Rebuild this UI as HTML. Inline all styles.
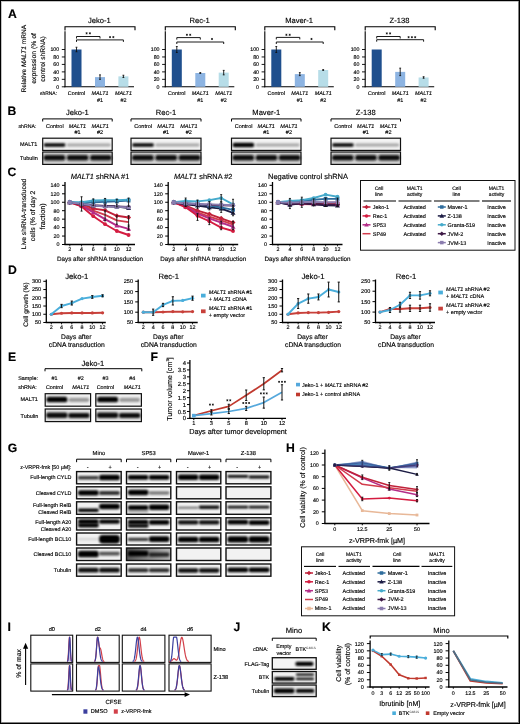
<!DOCTYPE html>
<html><head><meta charset="utf-8"><style>
html,body{margin:0;padding:0;background:#fff;}
body{width:520px;height:724px;overflow:hidden;position:relative;}
svg{display:block;position:absolute;left:0;top:0;will-change:transform;}
text{font-family:"Liberation Sans",sans-serif;text-rendering:geometricPrecision;stroke:#000;stroke-width:0.14px;}
.bd{position:absolute;}
</style></head><body>
<svg width="520" height="724" viewBox="0 0 520 724">
<defs>
<filter id="b1" x="-20%" y="-50%" width="140%" height="200%"><feGaussianBlur stdDeviation="0.5"/></filter>
<linearGradient id="gsp" x1="0" x2="1" y1="0" y2="0"><stop offset="0" stop-color="#555"/><stop offset="0.5" stop-color="#8a8a8a"/><stop offset="1" stop-color="#b5b5b5"/></linearGradient>
<filter id="b2" x="-20%" y="-100%" width="140%" height="300%"><feGaussianBlur stdDeviation="0.9"/></filter>
</defs>
<rect x="0" y="0" width="520" height="724" fill="#fff"/>
<text x="8" y="17.84" font-size="12.2" font-weight="bold">A</text>
<text x="7.6" y="114.64" font-size="12.2" font-weight="bold">B</text>
<text x="7.5" y="176.14" font-size="12.2" font-weight="bold">C</text>
<text x="7.9" y="273.74" font-size="12.2" font-weight="bold">D</text>
<text x="7.9" y="360.84" font-size="12.2" font-weight="bold">E</text>
<text x="150.5" y="360.94" font-size="12.2" font-weight="bold">F</text>
<text x="7.8" y="451.94" font-size="12.2" font-weight="bold">G</text>
<text x="286.1" y="451.84" font-size="12.2" font-weight="bold">H</text>
<text x="7.4" y="630.74" font-size="12.2" font-weight="bold">I</text>
<text x="233.5" y="631.14" font-size="12.2" font-weight="bold">J</text>
<text x="322" y="630.94" font-size="12.2" font-weight="bold">K</text>
<line x1="65" y1="31.2" x2="65" y2="87.3" stroke="#000" stroke-width="1.1"/>
<line x1="64.5" y1="86.8" x2="134" y2="86.8" stroke="#000" stroke-width="1.1"/>
<path d="M65 30.4V26.7H135V30.2" fill="none" stroke="#000" stroke-width="1.1"/>
<line x1="61.8" y1="86.8" x2="65" y2="86.8" stroke="#000" stroke-width="0.9"/>
<text x="59.2" y="88.64" font-size="5.25" text-anchor="end">0</text>
<line x1="61.8" y1="79.34" x2="65" y2="79.34" stroke="#000" stroke-width="0.9"/>
<text x="59.2" y="81.18" font-size="5.25" text-anchor="end">20</text>
<line x1="61.8" y1="71.88" x2="65" y2="71.88" stroke="#000" stroke-width="0.9"/>
<text x="59.2" y="73.72" font-size="5.25" text-anchor="end">40</text>
<line x1="61.8" y1="64.42" x2="65" y2="64.42" stroke="#000" stroke-width="0.9"/>
<text x="59.2" y="66.26" font-size="5.25" text-anchor="end">60</text>
<line x1="61.8" y1="56.96" x2="65" y2="56.96" stroke="#000" stroke-width="0.9"/>
<text x="59.2" y="58.8" font-size="5.25" text-anchor="end">80</text>
<line x1="61.8" y1="49.5" x2="65" y2="49.5" stroke="#000" stroke-width="0.9"/>
<text x="59.2" y="51.34" font-size="5.25" text-anchor="end">100</text>
<text x="99.3" y="23.16" font-size="7.6" text-anchor="middle">Jeko-1</text>
<rect x="71.5" y="49.5" width="10" height="37.3" fill="#1f4f8d"/>
<line x1="76.5" y1="47.26" x2="76.5" y2="51.74" stroke="#111" stroke-width="0.9"/>
<line x1="75.6" y1="47.26" x2="77.4" y2="47.26" stroke="#111" stroke-width="0.9"/>
<line x1="75.6" y1="51.74" x2="77.4" y2="51.74" stroke="#111" stroke-width="0.9"/>
<rect x="95" y="77.1" width="10" height="9.7" fill="#8db4e2"/>
<line x1="100" y1="74.86" x2="100" y2="79.34" stroke="#111" stroke-width="0.9"/>
<line x1="99.1" y1="74.86" x2="100.9" y2="74.86" stroke="#111" stroke-width="0.9"/>
<line x1="99.1" y1="79.34" x2="100.9" y2="79.34" stroke="#111" stroke-width="0.9"/>
<rect x="118.4" y="76.36" width="10" height="10.44" fill="#b7dde8"/>
<line x1="123.4" y1="75.24" x2="123.4" y2="77.47" stroke="#111" stroke-width="0.9"/>
<line x1="122.5" y1="75.24" x2="124.3" y2="75.24" stroke="#111" stroke-width="0.9"/>
<line x1="122.5" y1="77.47" x2="124.3" y2="77.47" stroke="#111" stroke-width="0.9"/>
<path d="M76.5 38.5V36.5H100V38.5" fill="none" stroke="#000" stroke-width="0.9"/>
<path d="M76.5 41.9V39.9H123.4V41.9" fill="none" stroke="#000" stroke-width="0.9"/>
<path d="M86.6 32.25V34.35M85.66 32.77L87.54 33.82M85.66 33.82L87.54 32.77M89.9 32.25V34.35M88.95 32.77L90.84 33.82M88.95 33.82L90.84 32.77" stroke="#000" stroke-width="0.65" fill="none"/>
<path d="M110.05 36.05V38.15M109.11 36.58L110.99 37.62M109.11 37.62L110.99 36.58M113.35 36.05V38.15M112.41 36.58L114.29 37.62M112.41 37.62L114.29 36.58" stroke="#000" stroke-width="0.65" fill="none"/>
<text x="76.5" y="95.19" font-size="5.4" text-anchor="middle">Control</text>
<text x="100" y="95.19" font-size="5.4" text-anchor="middle" font-style="italic">MALT1</text>
<text x="123.4" y="95.19" font-size="5.4" text-anchor="middle" font-style="italic">MALT1</text>
<text x="100" y="101.69" font-size="5.4" text-anchor="middle">#1</text>
<text x="123.4" y="101.69" font-size="5.4" text-anchor="middle">#2</text>
<line x1="165.3" y1="31.2" x2="165.3" y2="87.3" stroke="#000" stroke-width="1.1"/>
<line x1="164.8" y1="86.8" x2="234.3" y2="86.8" stroke="#000" stroke-width="1.1"/>
<path d="M165.3 30.4V26.7H235.3V30.2" fill="none" stroke="#000" stroke-width="1.1"/>
<line x1="162.1" y1="86.8" x2="165.3" y2="86.8" stroke="#000" stroke-width="0.9"/>
<text x="159.5" y="88.64" font-size="5.25" text-anchor="end">0</text>
<line x1="162.1" y1="79.34" x2="165.3" y2="79.34" stroke="#000" stroke-width="0.9"/>
<text x="159.5" y="81.18" font-size="5.25" text-anchor="end">20</text>
<line x1="162.1" y1="71.88" x2="165.3" y2="71.88" stroke="#000" stroke-width="0.9"/>
<text x="159.5" y="73.72" font-size="5.25" text-anchor="end">40</text>
<line x1="162.1" y1="64.42" x2="165.3" y2="64.42" stroke="#000" stroke-width="0.9"/>
<text x="159.5" y="66.26" font-size="5.25" text-anchor="end">60</text>
<line x1="162.1" y1="56.96" x2="165.3" y2="56.96" stroke="#000" stroke-width="0.9"/>
<text x="159.5" y="58.8" font-size="5.25" text-anchor="end">80</text>
<line x1="162.1" y1="49.5" x2="165.3" y2="49.5" stroke="#000" stroke-width="0.9"/>
<text x="159.5" y="51.34" font-size="5.25" text-anchor="end">100</text>
<text x="199.6" y="23.16" font-size="7.6" text-anchor="middle">Rec-1</text>
<rect x="171.8" y="49.5" width="10" height="37.3" fill="#1f4f8d"/>
<line x1="176.8" y1="46.52" x2="176.8" y2="52.48" stroke="#111" stroke-width="0.9"/>
<line x1="175.9" y1="46.52" x2="177.7" y2="46.52" stroke="#111" stroke-width="0.9"/>
<line x1="175.9" y1="52.48" x2="177.7" y2="52.48" stroke="#111" stroke-width="0.9"/>
<rect x="195.3" y="73" width="10" height="13.8" fill="#8db4e2"/>
<line x1="200.3" y1="72.63" x2="200.3" y2="73.37" stroke="#111" stroke-width="0.9"/>
<line x1="199.4" y1="72.63" x2="201.2" y2="72.63" stroke="#111" stroke-width="0.9"/>
<line x1="199.4" y1="73.37" x2="201.2" y2="73.37" stroke="#111" stroke-width="0.9"/>
<rect x="218.7" y="72.63" width="10" height="14.17" fill="#b7dde8"/>
<line x1="223.7" y1="70.39" x2="223.7" y2="74.86" stroke="#111" stroke-width="0.9"/>
<line x1="222.8" y1="70.39" x2="224.6" y2="70.39" stroke="#111" stroke-width="0.9"/>
<line x1="222.8" y1="74.86" x2="224.6" y2="74.86" stroke="#111" stroke-width="0.9"/>
<path d="M176.8 39.6V37.6H200.3V39.6" fill="none" stroke="#000" stroke-width="0.9"/>
<path d="M176.8 44V42H223.7V44" fill="none" stroke="#000" stroke-width="0.9"/>
<path d="M186.9 33.75V35.85M185.96 34.27L187.84 35.32M185.96 35.32L187.84 34.27M190.2 33.75V35.85M189.26 34.27L191.15 35.32M189.26 35.32L191.15 34.27" stroke="#000" stroke-width="0.65" fill="none"/>
<path d="M212 37.95V40.05M211.06 38.48L212.94 39.52M211.06 39.52L212.94 38.48" stroke="#000" stroke-width="0.65" fill="none"/>
<text x="176.8" y="95.19" font-size="5.4" text-anchor="middle">Control</text>
<text x="200.3" y="95.19" font-size="5.4" text-anchor="middle" font-style="italic">MALT1</text>
<text x="223.7" y="95.19" font-size="5.4" text-anchor="middle" font-style="italic">MALT1</text>
<text x="200.3" y="101.69" font-size="5.4" text-anchor="middle">#1</text>
<text x="223.7" y="101.69" font-size="5.4" text-anchor="middle">#2</text>
<line x1="264.8" y1="31.2" x2="264.8" y2="87.3" stroke="#000" stroke-width="1.1"/>
<line x1="264.3" y1="86.8" x2="333.8" y2="86.8" stroke="#000" stroke-width="1.1"/>
<path d="M264.8 30.4V26.7H334.8V30.2" fill="none" stroke="#000" stroke-width="1.1"/>
<line x1="261.6" y1="86.8" x2="264.8" y2="86.8" stroke="#000" stroke-width="0.9"/>
<text x="259" y="88.64" font-size="5.25" text-anchor="end">0</text>
<line x1="261.6" y1="79.34" x2="264.8" y2="79.34" stroke="#000" stroke-width="0.9"/>
<text x="259" y="81.18" font-size="5.25" text-anchor="end">20</text>
<line x1="261.6" y1="71.88" x2="264.8" y2="71.88" stroke="#000" stroke-width="0.9"/>
<text x="259" y="73.72" font-size="5.25" text-anchor="end">40</text>
<line x1="261.6" y1="64.42" x2="264.8" y2="64.42" stroke="#000" stroke-width="0.9"/>
<text x="259" y="66.26" font-size="5.25" text-anchor="end">60</text>
<line x1="261.6" y1="56.96" x2="264.8" y2="56.96" stroke="#000" stroke-width="0.9"/>
<text x="259" y="58.8" font-size="5.25" text-anchor="end">80</text>
<line x1="261.6" y1="49.5" x2="264.8" y2="49.5" stroke="#000" stroke-width="0.9"/>
<text x="259" y="51.34" font-size="5.25" text-anchor="end">100</text>
<text x="299.1" y="23.16" font-size="7.6" text-anchor="middle">Maver-1</text>
<rect x="271.3" y="49.5" width="10" height="37.3" fill="#1f4f8d"/>
<line x1="276.3" y1="46.52" x2="276.3" y2="52.48" stroke="#111" stroke-width="0.9"/>
<line x1="275.4" y1="46.52" x2="277.2" y2="46.52" stroke="#111" stroke-width="0.9"/>
<line x1="275.4" y1="52.48" x2="277.2" y2="52.48" stroke="#111" stroke-width="0.9"/>
<rect x="294.8" y="74.12" width="10" height="12.68" fill="#8db4e2"/>
<line x1="299.8" y1="72.63" x2="299.8" y2="75.61" stroke="#111" stroke-width="0.9"/>
<line x1="298.9" y1="72.63" x2="300.7" y2="72.63" stroke="#111" stroke-width="0.9"/>
<line x1="298.9" y1="75.61" x2="300.7" y2="75.61" stroke="#111" stroke-width="0.9"/>
<rect x="318.2" y="70.02" width="10" height="16.79" fill="#b7dde8"/>
<line x1="323.2" y1="69.64" x2="323.2" y2="70.39" stroke="#111" stroke-width="0.9"/>
<line x1="322.3" y1="69.64" x2="324.1" y2="69.64" stroke="#111" stroke-width="0.9"/>
<line x1="322.3" y1="70.39" x2="324.1" y2="70.39" stroke="#111" stroke-width="0.9"/>
<path d="M276.3 39.4V37.4H299.8V39.4" fill="none" stroke="#000" stroke-width="0.9"/>
<path d="M276.3 44V42H323.2V44" fill="none" stroke="#000" stroke-width="0.9"/>
<path d="M286.4 33.75V35.85M285.46 34.27L287.35 35.32M285.46 35.32L287.35 34.27M289.7 33.75V35.85M288.76 34.27L290.65 35.32M288.76 35.32L290.65 34.27" stroke="#000" stroke-width="0.65" fill="none"/>
<path d="M311.5 37.95V40.05M310.56 38.48L312.44 39.52M310.56 39.52L312.44 38.48" stroke="#000" stroke-width="0.65" fill="none"/>
<text x="276.3" y="95.19" font-size="5.4" text-anchor="middle">Control</text>
<text x="299.8" y="95.19" font-size="5.4" text-anchor="middle" font-style="italic">MALT1</text>
<text x="323.2" y="95.19" font-size="5.4" text-anchor="middle" font-style="italic">MALT1</text>
<text x="299.8" y="101.69" font-size="5.4" text-anchor="middle">#1</text>
<text x="323.2" y="101.69" font-size="5.4" text-anchor="middle">#2</text>
<line x1="365.2" y1="31.2" x2="365.2" y2="87.3" stroke="#000" stroke-width="1.1"/>
<line x1="364.7" y1="86.8" x2="434.2" y2="86.8" stroke="#000" stroke-width="1.1"/>
<path d="M365.2 30.4V26.7H435.2V30.2" fill="none" stroke="#000" stroke-width="1.1"/>
<line x1="362" y1="86.8" x2="365.2" y2="86.8" stroke="#000" stroke-width="0.9"/>
<text x="359.4" y="88.64" font-size="5.25" text-anchor="end">0</text>
<line x1="362" y1="79.34" x2="365.2" y2="79.34" stroke="#000" stroke-width="0.9"/>
<text x="359.4" y="81.18" font-size="5.25" text-anchor="end">20</text>
<line x1="362" y1="71.88" x2="365.2" y2="71.88" stroke="#000" stroke-width="0.9"/>
<text x="359.4" y="73.72" font-size="5.25" text-anchor="end">40</text>
<line x1="362" y1="64.42" x2="365.2" y2="64.42" stroke="#000" stroke-width="0.9"/>
<text x="359.4" y="66.26" font-size="5.25" text-anchor="end">60</text>
<line x1="362" y1="56.96" x2="365.2" y2="56.96" stroke="#000" stroke-width="0.9"/>
<text x="359.4" y="58.8" font-size="5.25" text-anchor="end">80</text>
<line x1="362" y1="49.5" x2="365.2" y2="49.5" stroke="#000" stroke-width="0.9"/>
<text x="359.4" y="51.34" font-size="5.25" text-anchor="end">100</text>
<text x="399.5" y="23.16" font-size="7.6" text-anchor="middle">Z-138</text>
<rect x="371.7" y="49.5" width="10" height="37.3" fill="#1f4f8d"/>
<rect x="395.2" y="71.88" width="10" height="14.92" fill="#8db4e2"/>
<line x1="400.2" y1="68.15" x2="400.2" y2="75.61" stroke="#111" stroke-width="0.9"/>
<line x1="399.3" y1="68.15" x2="401.1" y2="68.15" stroke="#111" stroke-width="0.9"/>
<line x1="399.3" y1="75.61" x2="401.1" y2="75.61" stroke="#111" stroke-width="0.9"/>
<rect x="418.6" y="77.47" width="10" height="9.32" fill="#b7dde8"/>
<line x1="423.6" y1="76.73" x2="423.6" y2="78.22" stroke="#111" stroke-width="0.9"/>
<line x1="422.7" y1="76.73" x2="424.5" y2="76.73" stroke="#111" stroke-width="0.9"/>
<line x1="422.7" y1="78.22" x2="424.5" y2="78.22" stroke="#111" stroke-width="0.9"/>
<path d="M376.7 38.5V36.5H400.2V38.5" fill="none" stroke="#000" stroke-width="0.9"/>
<path d="M376.7 41.7V39.7H423.6V41.7" fill="none" stroke="#000" stroke-width="0.9"/>
<path d="M386.8 32.35V34.45M385.86 32.88L387.75 33.92M385.86 33.92L387.75 32.88M390.1 32.35V34.45M389.16 32.88L391.05 33.92M389.16 33.92L391.05 32.88" stroke="#000" stroke-width="0.65" fill="none"/>
<path d="M408.6 36.15V38.25M407.65 36.68L409.54 37.73M407.65 37.73L409.54 36.68M411.9 36.15V38.25M410.95 36.68L412.84 37.73M410.95 37.73L412.84 36.68M415.2 36.15V38.25M414.25 36.68L416.14 37.73M414.25 37.73L416.14 36.68" stroke="#000" stroke-width="0.65" fill="none"/>
<text x="376.7" y="95.19" font-size="5.4" text-anchor="middle">Control</text>
<text x="400.2" y="95.19" font-size="5.4" text-anchor="middle" font-style="italic">MALT1</text>
<text x="423.6" y="95.19" font-size="5.4" text-anchor="middle" font-style="italic">MALT1</text>
<text x="400.2" y="101.69" font-size="5.4" text-anchor="middle">#1</text>
<text x="423.6" y="101.69" font-size="5.4" text-anchor="middle">#2</text>
<text x="40" y="95.03" font-size="4.95">shRNA:</text>
<text x="23.6" y="61.01" font-size="6.6" text-anchor="middle" transform="rotate(-90 23.6 58.7)">Relative <tspan font-style="italic">MALT1</tspan> mRNA</text>
<text x="33.2" y="60.78" font-size="6.8" text-anchor="middle" transform="rotate(-90 33.2 58.4)">expression (% of</text>
<text x="42.2" y="61.34" font-size="6.7" text-anchor="middle" transform="rotate(-90 42.2 59)">control shRNA)</text>
<path d="M42.7 121.5V118.9H112.2V121.5" fill="none" stroke="#000" stroke-width="1"/>
<text x="77.45" y="115.06" font-size="7.6" text-anchor="middle">Jeko-1</text>
<text x="54.78" y="127.92" font-size="5.5" text-anchor="middle">Control</text>
<text x="77.45" y="127.92" font-size="5.5" text-anchor="middle" font-style="italic">MALT1</text>
<text x="100.12" y="127.92" font-size="5.5" text-anchor="middle" font-style="italic">MALT1</text>
<text x="77.45" y="134.43" font-size="5.5" text-anchor="middle">#1</text>
<text x="100.12" y="134.43" font-size="5.5" text-anchor="middle">#2</text>
<rect x="42.7" y="138.2" width="69.5" height="12.2" fill="#f4f4f4" stroke="#111" stroke-width="1.2"/>
<rect x="43.9" y="143.35" width="21.47" height="3.29" rx="1.32" fill="#000" fill-opacity="1" filter="url(#b2)"/>
<rect x="66.87" y="143.42" width="43.83" height="3.16" rx="1.26" fill="#444" fill-opacity="0.45" filter="url(#b2)"/>
<rect x="42.7" y="152" width="69.5" height="12.4" fill="#d2d2d2" stroke="#111" stroke-width="1.2"/>
<rect x="43.7" y="155.05" width="21.57" height="5.5" rx="2.2" fill="#111" fill-opacity="1" filter="url(#b2)"/>
<rect x="66.87" y="155.05" width="21.57" height="5.5" rx="2.2" fill="#111" fill-opacity="1" filter="url(#b2)"/>
<rect x="90.03" y="155.05" width="21.57" height="5.5" rx="2.2" fill="#111" fill-opacity="1" filter="url(#b2)"/>
<path d="M131 121.5V118.9H201V121.5" fill="none" stroke="#000" stroke-width="1"/>
<text x="166" y="115.06" font-size="7.6" text-anchor="middle">Rec-1</text>
<text x="143.17" y="127.92" font-size="5.5" text-anchor="middle">Control</text>
<text x="166" y="127.92" font-size="5.5" text-anchor="middle" font-style="italic">MALT1</text>
<text x="188.83" y="127.92" font-size="5.5" text-anchor="middle" font-style="italic">MALT1</text>
<text x="166" y="134.43" font-size="5.5" text-anchor="middle">#1</text>
<text x="188.83" y="134.43" font-size="5.5" text-anchor="middle">#2</text>
<rect x="131" y="138.2" width="70" height="12.2" fill="#f4f4f4" stroke="#111" stroke-width="1.2"/>
<rect x="132.2" y="143.22" width="21.63" height="3.55" rx="1.42" fill="#000" fill-opacity="1" filter="url(#b2)"/>
<rect x="155.33" y="143.42" width="44.17" height="3.16" rx="1.26" fill="#444" fill-opacity="0.45" filter="url(#b2)"/>
<rect x="131" y="152" width="70" height="12.4" fill="#d2d2d2" stroke="#111" stroke-width="1.2"/>
<rect x="132" y="155.05" width="21.73" height="5.5" rx="2.2" fill="#111" fill-opacity="1" filter="url(#b2)"/>
<rect x="155.33" y="155.05" width="21.73" height="5.5" rx="2.2" fill="#111" fill-opacity="1" filter="url(#b2)"/>
<rect x="178.67" y="155.05" width="21.73" height="5.5" rx="2.2" fill="#111" fill-opacity="1" filter="url(#b2)"/>
<path d="M231.5 121.5V118.9H301V121.5" fill="none" stroke="#000" stroke-width="1"/>
<text x="266.25" y="115.06" font-size="7.6" text-anchor="middle">Maver-1</text>
<text x="243.58" y="127.92" font-size="5.5" text-anchor="middle">Control</text>
<text x="266.25" y="127.92" font-size="5.5" text-anchor="middle" font-style="italic">MALT1</text>
<text x="288.92" y="127.92" font-size="5.5" text-anchor="middle" font-style="italic">MALT1</text>
<text x="266.25" y="134.43" font-size="5.5" text-anchor="middle">#1</text>
<text x="288.92" y="134.43" font-size="5.5" text-anchor="middle">#2</text>
<rect x="231.5" y="138.2" width="69.5" height="12.2" fill="#f4f4f4" stroke="#111" stroke-width="1.2"/>
<rect x="232.7" y="142.77" width="21.47" height="4.46" rx="1.78" fill="#000" fill-opacity="1" filter="url(#b2)"/>
<rect x="255.67" y="143.42" width="43.83" height="3.16" rx="1.26" fill="#444" fill-opacity="0.45" filter="url(#b2)"/>
<rect x="231.5" y="152" width="69.5" height="12.4" fill="#d2d2d2" stroke="#111" stroke-width="1.2"/>
<rect x="232.5" y="155.05" width="21.57" height="5.5" rx="2.2" fill="#111" fill-opacity="1" filter="url(#b2)"/>
<rect x="255.67" y="155.05" width="21.57" height="5.5" rx="2.2" fill="#111" fill-opacity="1" filter="url(#b2)"/>
<rect x="278.83" y="155.05" width="21.57" height="5.5" rx="2.2" fill="#111" fill-opacity="1" filter="url(#b2)"/>
<path d="M331 121.5V118.9H400.5V121.5" fill="none" stroke="#000" stroke-width="1"/>
<text x="365.75" y="115.06" font-size="7.6" text-anchor="middle">Z-138</text>
<text x="343.08" y="127.92" font-size="5.5" text-anchor="middle">Control</text>
<text x="365.75" y="127.92" font-size="5.5" text-anchor="middle" font-style="italic">MALT1</text>
<text x="388.42" y="127.92" font-size="5.5" text-anchor="middle" font-style="italic">MALT1</text>
<text x="365.75" y="134.43" font-size="5.5" text-anchor="middle">#1</text>
<text x="388.42" y="134.43" font-size="5.5" text-anchor="middle">#2</text>
<rect x="331" y="138.2" width="69.5" height="12.2" fill="#f4f4f4" stroke="#111" stroke-width="1.2"/>
<rect x="332.2" y="143.22" width="21.47" height="3.55" rx="1.42" fill="#000" fill-opacity="1" filter="url(#b2)"/>
<rect x="355.17" y="143.42" width="43.83" height="3.16" rx="1.26" fill="#444" fill-opacity="0.45" filter="url(#b2)"/>
<rect x="331" y="152" width="69.5" height="12.4" fill="#d2d2d2" stroke="#111" stroke-width="1.2"/>
<rect x="332" y="155.05" width="21.57" height="5.5" rx="2.2" fill="#111" fill-opacity="1" filter="url(#b2)"/>
<rect x="355.17" y="155.05" width="21.57" height="5.5" rx="2.2" fill="#111" fill-opacity="1" filter="url(#b2)"/>
<rect x="378.33" y="155.05" width="21.57" height="5.5" rx="2.2" fill="#111" fill-opacity="1" filter="url(#b2)"/>
<text x="18.5" y="127.82" font-size="5.2">shRNA:</text>
<text x="20" y="146.43" font-size="5.5">MALT1</text>
<text x="20" y="159.93" font-size="5.5">Tubulin</text>
<line x1="65" y1="182" x2="65" y2="245.1" stroke="#000" stroke-width="1.3"/>
<line x1="64.4" y1="244.5" x2="135" y2="244.5" stroke="#000" stroke-width="1.3"/>
<line x1="62" y1="244.5" x2="65" y2="244.5" stroke="#000" stroke-width="1"/>
<text x="59.6" y="246.39" font-size="5.4" text-anchor="end">0</text>
<line x1="62" y1="236.05" x2="65" y2="236.05" stroke="#000" stroke-width="1"/>
<text x="59.6" y="237.94" font-size="5.4" text-anchor="end">20</text>
<line x1="62" y1="227.6" x2="65" y2="227.6" stroke="#000" stroke-width="1"/>
<text x="59.6" y="229.49" font-size="5.4" text-anchor="end">40</text>
<line x1="62" y1="219.15" x2="65" y2="219.15" stroke="#000" stroke-width="1"/>
<text x="59.6" y="221.04" font-size="5.4" text-anchor="end">60</text>
<line x1="62" y1="210.7" x2="65" y2="210.7" stroke="#000" stroke-width="1"/>
<text x="59.6" y="212.59" font-size="5.4" text-anchor="end">80</text>
<line x1="62" y1="202.25" x2="65" y2="202.25" stroke="#000" stroke-width="1"/>
<text x="59.6" y="204.14" font-size="5.4" text-anchor="end">100</text>
<line x1="62" y1="193.8" x2="65" y2="193.8" stroke="#000" stroke-width="1"/>
<text x="59.6" y="195.69" font-size="5.4" text-anchor="end">120</text>
<line x1="62" y1="185.35" x2="65" y2="185.35" stroke="#000" stroke-width="1"/>
<text x="59.6" y="187.24" font-size="5.4" text-anchor="end">140</text>
<line x1="69.8" y1="244.5" x2="69.8" y2="246.3" stroke="#000" stroke-width="0.8"/>
<text x="69.8" y="250.85" font-size="5.3" text-anchor="middle">2</text>
<line x1="81.56" y1="244.5" x2="81.56" y2="246.3" stroke="#000" stroke-width="0.8"/>
<text x="81.56" y="250.85" font-size="5.3" text-anchor="middle">4</text>
<line x1="93.32" y1="244.5" x2="93.32" y2="246.3" stroke="#000" stroke-width="0.8"/>
<text x="93.32" y="250.85" font-size="5.3" text-anchor="middle">6</text>
<line x1="105.08" y1="244.5" x2="105.08" y2="246.3" stroke="#000" stroke-width="0.8"/>
<text x="105.08" y="250.85" font-size="5.3" text-anchor="middle">8</text>
<line x1="116.84" y1="244.5" x2="116.84" y2="246.3" stroke="#000" stroke-width="0.8"/>
<text x="116.84" y="250.85" font-size="5.3" text-anchor="middle">10</text>
<line x1="128.6" y1="244.5" x2="128.6" y2="246.3" stroke="#000" stroke-width="0.8"/>
<text x="128.6" y="250.85" font-size="5.3" text-anchor="middle">12</text>
<text x="100" y="260.5" font-size="6.3" text-anchor="middle">Days after shRNA transduction</text>
<text x="100" y="179.09" font-size="7.4" text-anchor="middle"><tspan font-style="italic">MALT1</tspan> shRNA #1</text>
<polyline points="69.8,202.25 81.56,203.94 93.32,208.59 105.08,210.28 116.84,215.77 128.6,217.46" fill="none" stroke="#c0223a" stroke-width="1.9" stroke-linejoin="round"/>
<polyline points="69.8,202.25 81.56,204.78 93.32,210.7 105.08,214.93 116.84,220.42 128.6,222.11" fill="none" stroke="#d23c4c" stroke-width="1.9" stroke-linejoin="round"/>
<polyline points="69.8,202.25 81.56,205.63 93.32,212.39 105.08,219.15 116.84,225.7 128.6,228.87" fill="none" stroke="#b42c88" stroke-width="1.9" stroke-linejoin="round"/>
<polyline points="69.8,202.25 81.56,206.47 93.32,216.19 105.08,224.22 116.84,230.98 128.6,234.99" fill="none" stroke="#d41c40" stroke-width="1.9" stroke-linejoin="round"/>
<polyline points="69.8,202.25 81.56,204.36 93.32,205.63 105.08,206.05 116.84,206.47 128.6,208.16" fill="none" stroke="#1c1c44" stroke-width="1.9" stroke-linejoin="round"/>
<polyline points="69.8,202.25 81.56,203.94 93.32,205.21 105.08,206.05 116.84,206.47 128.6,206.9" fill="none" stroke="#3d1845" stroke-width="1.9" stroke-linejoin="round"/>
<polyline points="69.8,202.25 81.56,203.09 93.32,202.25 105.08,201.83 116.84,201.41 128.6,200.56" fill="none" stroke="#2e6c9c" stroke-width="1.9" stroke-linejoin="round"/>
<polyline points="69.8,202.25 81.56,202.25 93.32,200.56 105.08,200.14 116.84,200.14 128.6,199.72" fill="none" stroke="#45aacb" stroke-width="1.9" stroke-linejoin="round"/>
<polyline points="69.8,202.25 81.56,203.94 93.32,205.63 105.08,206.47 116.84,206.9 128.6,207.32" fill="none" stroke="#8a7cae" stroke-width="1.9" stroke-linejoin="round"/>
<path d="M69.8 199.78L72.27 202.25L69.8 204.72L67.33 202.25Z" fill="#c0223a"/>
<path d="M81.56 201.47L84.03 203.94L81.56 206.41L79.09 203.94Z" fill="#c0223a"/>
<path d="M93.32 206.12L95.79 208.59L93.32 211.06L90.85 208.59Z" fill="#c0223a"/>
<path d="M105.08 207.81L107.55 210.28L105.08 212.75L102.61 210.28Z" fill="#c0223a"/>
<path d="M116.84 213.3L119.31 215.77L116.84 218.24L114.37 215.77Z" fill="#c0223a"/>
<path d="M128.6 214.99L131.07 217.46L128.6 219.93L126.13 217.46Z" fill="#c0223a"/>
<path d="M69.8 199.78L72.27 204.15L67.33 204.15Z" fill="#b42c88"/>
<path d="M81.56 203.16L84.03 207.53L79.09 207.53Z" fill="#b42c88"/>
<path d="M93.32 209.92L95.79 214.29L90.85 214.29Z" fill="#b42c88"/>
<path d="M105.08 216.68L107.55 221.05L102.61 221.05Z" fill="#b42c88"/>
<path d="M116.84 223.23L119.31 227.6L114.37 227.6Z" fill="#b42c88"/>
<path d="M128.6 226.4L131.07 230.77L126.13 230.77Z" fill="#b42c88"/>
<circle cx="69.8" cy="202.25" r="1.9" fill="#d41c40"/>
<circle cx="81.56" cy="206.47" r="1.9" fill="#d41c40"/>
<circle cx="93.32" cy="216.19" r="1.9" fill="#d41c40"/>
<circle cx="105.08" cy="224.22" r="1.9" fill="#d41c40"/>
<circle cx="116.84" cy="230.98" r="1.9" fill="#d41c40"/>
<circle cx="128.6" cy="234.99" r="1.9" fill="#d41c40"/>
<path d="M69.8 199.78L72.27 204.15L67.33 204.15Z" fill="#1c1c44"/>
<path d="M81.56 201.89L84.03 206.26L79.09 206.26Z" fill="#1c1c44"/>
<path d="M93.32 203.16L95.79 207.53L90.85 207.53Z" fill="#1c1c44"/>
<path d="M105.08 203.58L107.55 207.95L102.61 207.95Z" fill="#1c1c44"/>
<path d="M116.84 204L119.31 208.38L114.37 208.38Z" fill="#1c1c44"/>
<path d="M128.6 205.69L131.07 210.06L126.13 210.06Z" fill="#1c1c44"/>
<path d="M69.8 199.78L72.27 202.25L69.8 204.72L67.33 202.25Z" fill="#3d1845"/>
<path d="M81.56 201.47L84.03 203.94L81.56 206.41L79.09 203.94Z" fill="#3d1845"/>
<path d="M93.32 202.74L95.79 205.21L93.32 207.68L90.85 205.21Z" fill="#3d1845"/>
<path d="M105.08 203.58L107.55 206.05L105.08 208.52L102.61 206.05Z" fill="#3d1845"/>
<path d="M116.84 204L119.31 206.47L116.84 208.94L114.37 206.47Z" fill="#3d1845"/>
<path d="M128.6 204.43L131.07 206.9L128.6 209.37L126.13 206.9Z" fill="#3d1845"/>
<rect x="67.9" y="200.35" width="3.8" height="3.8" fill="#2e6c9c"/>
<rect x="79.66" y="201.19" width="3.8" height="3.8" fill="#2e6c9c"/>
<rect x="91.42" y="200.35" width="3.8" height="3.8" fill="#2e6c9c"/>
<rect x="103.18" y="199.93" width="3.8" height="3.8" fill="#2e6c9c"/>
<rect x="114.94" y="199.5" width="3.8" height="3.8" fill="#2e6c9c"/>
<rect x="126.7" y="198.66" width="3.8" height="3.8" fill="#2e6c9c"/>
<circle cx="69.8" cy="202.25" r="1.9" fill="#45aacb"/>
<circle cx="81.56" cy="202.25" r="1.9" fill="#45aacb"/>
<circle cx="93.32" cy="200.56" r="1.9" fill="#45aacb"/>
<circle cx="105.08" cy="200.14" r="1.9" fill="#45aacb"/>
<circle cx="116.84" cy="200.14" r="1.9" fill="#45aacb"/>
<circle cx="128.6" cy="199.72" r="1.9" fill="#45aacb"/>
<rect x="67.9" y="200.35" width="3.8" height="3.8" fill="#8a7cae"/>
<rect x="79.66" y="202.04" width="3.8" height="3.8" fill="#8a7cae"/>
<rect x="91.42" y="203.73" width="3.8" height="3.8" fill="#8a7cae"/>
<rect x="103.18" y="204.57" width="3.8" height="3.8" fill="#8a7cae"/>
<rect x="114.94" y="205" width="3.8" height="3.8" fill="#8a7cae"/>
<rect x="126.7" y="205.42" width="3.8" height="3.8" fill="#8a7cae"/>
<line x1="81.56" y1="196.76" x2="81.56" y2="211.12" stroke="#111" stroke-width="0.9"/>
<line x1="80.56" y1="196.76" x2="82.56" y2="196.76" stroke="#111" stroke-width="0.9"/>
<line x1="80.56" y1="211.12" x2="82.56" y2="211.12" stroke="#111" stroke-width="0.9"/>
<line x1="93.32" y1="198.87" x2="93.32" y2="205.63" stroke="#111" stroke-width="0.9"/>
<line x1="92.32" y1="198.87" x2="94.32" y2="198.87" stroke="#111" stroke-width="0.9"/>
<line x1="92.32" y1="205.63" x2="94.32" y2="205.63" stroke="#111" stroke-width="0.9"/>
<line x1="105.08" y1="198.45" x2="105.08" y2="206.05" stroke="#111" stroke-width="0.9"/>
<line x1="104.08" y1="198.45" x2="106.08" y2="198.45" stroke="#111" stroke-width="0.9"/>
<line x1="104.08" y1="206.05" x2="106.08" y2="206.05" stroke="#111" stroke-width="0.9"/>
<line x1="116.84" y1="199.29" x2="116.84" y2="206.9" stroke="#111" stroke-width="0.9"/>
<line x1="115.84" y1="199.29" x2="117.84" y2="199.29" stroke="#111" stroke-width="0.9"/>
<line x1="115.84" y1="206.9" x2="117.84" y2="206.9" stroke="#111" stroke-width="0.9"/>
<line x1="128.6" y1="198.03" x2="128.6" y2="206.47" stroke="#111" stroke-width="0.9"/>
<line x1="127.6" y1="198.03" x2="129.6" y2="198.03" stroke="#111" stroke-width="0.9"/>
<line x1="127.6" y1="206.47" x2="129.6" y2="206.47" stroke="#111" stroke-width="0.9"/>
<line x1="105.08" y1="210.7" x2="105.08" y2="220.84" stroke="#111" stroke-width="0.9"/>
<line x1="104.08" y1="210.7" x2="106.08" y2="210.7" stroke="#111" stroke-width="0.9"/>
<line x1="104.08" y1="220.84" x2="106.08" y2="220.84" stroke="#111" stroke-width="0.9"/>
<line x1="116.84" y1="215.77" x2="116.84" y2="224.22" stroke="#111" stroke-width="0.9"/>
<line x1="115.84" y1="215.77" x2="117.84" y2="215.77" stroke="#111" stroke-width="0.9"/>
<line x1="115.84" y1="224.22" x2="117.84" y2="224.22" stroke="#111" stroke-width="0.9"/>
<line x1="128.6" y1="215.77" x2="128.6" y2="226.75" stroke="#111" stroke-width="0.9"/>
<line x1="127.6" y1="215.77" x2="129.6" y2="215.77" stroke="#111" stroke-width="0.9"/>
<line x1="127.6" y1="226.75" x2="129.6" y2="226.75" stroke="#111" stroke-width="0.9"/>
<line x1="128.6" y1="225.06" x2="128.6" y2="230.13" stroke="#111" stroke-width="0.9"/>
<line x1="127.6" y1="225.06" x2="129.6" y2="225.06" stroke="#111" stroke-width="0.9"/>
<line x1="127.6" y1="230.13" x2="129.6" y2="230.13" stroke="#111" stroke-width="0.9"/>
<line x1="168.2" y1="182" x2="168.2" y2="245.1" stroke="#000" stroke-width="1.3"/>
<line x1="167.6" y1="244.5" x2="238.2" y2="244.5" stroke="#000" stroke-width="1.3"/>
<line x1="165.2" y1="244.5" x2="168.2" y2="244.5" stroke="#000" stroke-width="1"/>
<text x="162.8" y="246.39" font-size="5.4" text-anchor="end">0</text>
<line x1="165.2" y1="236.05" x2="168.2" y2="236.05" stroke="#000" stroke-width="1"/>
<text x="162.8" y="237.94" font-size="5.4" text-anchor="end">20</text>
<line x1="165.2" y1="227.6" x2="168.2" y2="227.6" stroke="#000" stroke-width="1"/>
<text x="162.8" y="229.49" font-size="5.4" text-anchor="end">40</text>
<line x1="165.2" y1="219.15" x2="168.2" y2="219.15" stroke="#000" stroke-width="1"/>
<text x="162.8" y="221.04" font-size="5.4" text-anchor="end">60</text>
<line x1="165.2" y1="210.7" x2="168.2" y2="210.7" stroke="#000" stroke-width="1"/>
<text x="162.8" y="212.59" font-size="5.4" text-anchor="end">80</text>
<line x1="165.2" y1="202.25" x2="168.2" y2="202.25" stroke="#000" stroke-width="1"/>
<text x="162.8" y="204.14" font-size="5.4" text-anchor="end">100</text>
<line x1="165.2" y1="193.8" x2="168.2" y2="193.8" stroke="#000" stroke-width="1"/>
<text x="162.8" y="195.69" font-size="5.4" text-anchor="end">120</text>
<line x1="165.2" y1="185.35" x2="168.2" y2="185.35" stroke="#000" stroke-width="1"/>
<text x="162.8" y="187.24" font-size="5.4" text-anchor="end">140</text>
<line x1="173.8" y1="244.5" x2="173.8" y2="246.3" stroke="#000" stroke-width="0.8"/>
<text x="173.8" y="250.85" font-size="5.3" text-anchor="middle">2</text>
<line x1="185.65" y1="244.5" x2="185.65" y2="246.3" stroke="#000" stroke-width="0.8"/>
<text x="185.65" y="250.85" font-size="5.3" text-anchor="middle">4</text>
<line x1="197.5" y1="244.5" x2="197.5" y2="246.3" stroke="#000" stroke-width="0.8"/>
<text x="197.5" y="250.85" font-size="5.3" text-anchor="middle">6</text>
<line x1="209.35" y1="244.5" x2="209.35" y2="246.3" stroke="#000" stroke-width="0.8"/>
<text x="209.35" y="250.85" font-size="5.3" text-anchor="middle">8</text>
<line x1="221.2" y1="244.5" x2="221.2" y2="246.3" stroke="#000" stroke-width="0.8"/>
<text x="221.2" y="250.85" font-size="5.3" text-anchor="middle">10</text>
<line x1="233.05" y1="244.5" x2="233.05" y2="246.3" stroke="#000" stroke-width="0.8"/>
<text x="233.05" y="250.85" font-size="5.3" text-anchor="middle">12</text>
<text x="203.2" y="260.5" font-size="6.3" text-anchor="middle">Days after shRNA transduction</text>
<text x="203.2" y="179.09" font-size="7.4" text-anchor="middle"><tspan font-style="italic">MALT1</tspan> shRNA #2</text>
<polyline points="173.8,202.25 185.65,205.63 197.5,210.7 209.35,214.08 221.2,218.31 233.05,222.53" fill="none" stroke="#c0223a" stroke-width="1.9" stroke-linejoin="round"/>
<polyline points="173.8,202.25 185.65,206.47 197.5,212.39 209.35,216.62 221.2,220.42 233.05,224.64" fill="none" stroke="#d23c4c" stroke-width="1.9" stroke-linejoin="round"/>
<polyline points="173.8,202.25 185.65,206.47 197.5,213.66 209.35,218.31 221.2,222.53 233.05,226.75" fill="none" stroke="#b42c88" stroke-width="1.9" stroke-linejoin="round"/>
<polyline points="173.8,202.25 185.65,207.32 197.5,215.77 209.35,221.26 221.2,227.6 233.05,230.98" fill="none" stroke="#d41c40" stroke-width="1.9" stroke-linejoin="round"/>
<polyline points="173.8,202.25 185.65,204.36 197.5,205.63 209.35,207.32 221.2,208.59 233.05,212.81" fill="none" stroke="#1c1c44" stroke-width="1.9" stroke-linejoin="round"/>
<polyline points="173.8,202.25 185.65,203.09 197.5,203.94 209.35,205.63 221.2,207.32 233.05,209.86" fill="none" stroke="#2e6c9c" stroke-width="1.9" stroke-linejoin="round"/>
<polyline points="173.8,202.25 185.65,203.52 197.5,204.36 209.35,204.78 221.2,205.21 233.05,205.63" fill="none" stroke="#3d1845" stroke-width="1.9" stroke-linejoin="round"/>
<polyline points="173.8,202.25 185.65,200.98 197.5,201.41 209.35,200.14 221.2,198.03 233.05,204.36" fill="none" stroke="#45aacb" stroke-width="1.9" stroke-linejoin="round"/>
<polyline points="173.8,202.25 185.65,203.52 197.5,203.94 209.35,204.36 221.2,204.78 233.05,205.21" fill="none" stroke="#8a7cae" stroke-width="1.9" stroke-linejoin="round"/>
<path d="M173.8 199.78L176.27 202.25L173.8 204.72L171.33 202.25Z" fill="#c0223a"/>
<path d="M185.65 203.16L188.12 205.63L185.65 208.1L183.18 205.63Z" fill="#c0223a"/>
<path d="M197.5 208.23L199.97 210.7L197.5 213.17L195.03 210.7Z" fill="#c0223a"/>
<path d="M209.35 211.61L211.82 214.08L209.35 216.55L206.88 214.08Z" fill="#c0223a"/>
<path d="M221.2 215.84L223.67 218.31L221.2 220.78L218.73 218.31Z" fill="#c0223a"/>
<path d="M233.05 220.06L235.52 222.53L233.05 225L230.58 222.53Z" fill="#c0223a"/>
<path d="M173.8 199.78L176.27 204.15L171.33 204.15Z" fill="#b42c88"/>
<path d="M185.65 204L188.12 208.38L183.18 208.38Z" fill="#b42c88"/>
<path d="M197.5 211.19L199.97 215.56L195.03 215.56Z" fill="#b42c88"/>
<path d="M209.35 215.84L211.82 220.21L206.88 220.21Z" fill="#b42c88"/>
<path d="M221.2 220.06L223.67 224.43L218.73 224.43Z" fill="#b42c88"/>
<path d="M233.05 224.28L235.52 228.66L230.58 228.66Z" fill="#b42c88"/>
<circle cx="173.8" cy="202.25" r="1.9" fill="#d41c40"/>
<circle cx="185.65" cy="207.32" r="1.9" fill="#d41c40"/>
<circle cx="197.5" cy="215.77" r="1.9" fill="#d41c40"/>
<circle cx="209.35" cy="221.26" r="1.9" fill="#d41c40"/>
<circle cx="221.2" cy="227.6" r="1.9" fill="#d41c40"/>
<circle cx="233.05" cy="230.98" r="1.9" fill="#d41c40"/>
<path d="M173.8 199.78L176.27 204.15L171.33 204.15Z" fill="#1c1c44"/>
<path d="M185.65 201.89L188.12 206.26L183.18 206.26Z" fill="#1c1c44"/>
<path d="M197.5 203.16L199.97 207.53L195.03 207.53Z" fill="#1c1c44"/>
<path d="M209.35 204.85L211.82 209.22L206.88 209.22Z" fill="#1c1c44"/>
<path d="M221.2 206.12L223.67 210.49L218.73 210.49Z" fill="#1c1c44"/>
<path d="M233.05 210.34L235.52 214.71L230.58 214.71Z" fill="#1c1c44"/>
<rect x="171.9" y="200.35" width="3.8" height="3.8" fill="#2e6c9c"/>
<rect x="183.75" y="201.19" width="3.8" height="3.8" fill="#2e6c9c"/>
<rect x="195.6" y="202.04" width="3.8" height="3.8" fill="#2e6c9c"/>
<rect x="207.45" y="203.73" width="3.8" height="3.8" fill="#2e6c9c"/>
<rect x="219.3" y="205.42" width="3.8" height="3.8" fill="#2e6c9c"/>
<rect x="231.15" y="207.96" width="3.8" height="3.8" fill="#2e6c9c"/>
<path d="M173.8 199.78L176.27 202.25L173.8 204.72L171.33 202.25Z" fill="#3d1845"/>
<path d="M185.65 201.05L188.12 203.52L185.65 205.99L183.18 203.52Z" fill="#3d1845"/>
<path d="M197.5 201.89L199.97 204.36L197.5 206.83L195.03 204.36Z" fill="#3d1845"/>
<path d="M209.35 202.31L211.82 204.78L209.35 207.25L206.88 204.78Z" fill="#3d1845"/>
<path d="M221.2 202.74L223.67 205.21L221.2 207.68L218.73 205.21Z" fill="#3d1845"/>
<path d="M233.05 203.16L235.52 205.63L233.05 208.1L230.58 205.63Z" fill="#3d1845"/>
<circle cx="173.8" cy="202.25" r="1.9" fill="#45aacb"/>
<circle cx="185.65" cy="200.98" r="1.9" fill="#45aacb"/>
<circle cx="197.5" cy="201.41" r="1.9" fill="#45aacb"/>
<circle cx="209.35" cy="200.14" r="1.9" fill="#45aacb"/>
<circle cx="221.2" cy="198.03" r="1.9" fill="#45aacb"/>
<circle cx="233.05" cy="204.36" r="1.9" fill="#45aacb"/>
<rect x="171.9" y="200.35" width="3.8" height="3.8" fill="#8a7cae"/>
<rect x="183.75" y="201.62" width="3.8" height="3.8" fill="#8a7cae"/>
<rect x="195.6" y="202.04" width="3.8" height="3.8" fill="#8a7cae"/>
<rect x="207.45" y="202.46" width="3.8" height="3.8" fill="#8a7cae"/>
<rect x="219.3" y="202.88" width="3.8" height="3.8" fill="#8a7cae"/>
<rect x="231.15" y="203.31" width="3.8" height="3.8" fill="#8a7cae"/>
<line x1="185.65" y1="198.03" x2="185.65" y2="206.47" stroke="#111" stroke-width="0.9"/>
<line x1="184.65" y1="198.03" x2="186.65" y2="198.03" stroke="#111" stroke-width="0.9"/>
<line x1="184.65" y1="206.47" x2="186.65" y2="206.47" stroke="#111" stroke-width="0.9"/>
<line x1="197.5" y1="200.14" x2="197.5" y2="208.59" stroke="#111" stroke-width="0.9"/>
<line x1="196.5" y1="200.14" x2="198.5" y2="200.14" stroke="#111" stroke-width="0.9"/>
<line x1="196.5" y1="208.59" x2="198.5" y2="208.59" stroke="#111" stroke-width="0.9"/>
<line x1="209.35" y1="201.41" x2="209.35" y2="209.86" stroke="#111" stroke-width="0.9"/>
<line x1="208.35" y1="201.41" x2="210.35" y2="201.41" stroke="#111" stroke-width="0.9"/>
<line x1="208.35" y1="209.86" x2="210.35" y2="209.86" stroke="#111" stroke-width="0.9"/>
<line x1="221.2" y1="202.25" x2="221.2" y2="212.39" stroke="#111" stroke-width="0.9"/>
<line x1="220.2" y1="202.25" x2="222.2" y2="202.25" stroke="#111" stroke-width="0.9"/>
<line x1="220.2" y1="212.39" x2="222.2" y2="212.39" stroke="#111" stroke-width="0.9"/>
<line x1="233.05" y1="199.29" x2="233.05" y2="209.43" stroke="#111" stroke-width="0.9"/>
<line x1="232.05" y1="199.29" x2="234.05" y2="199.29" stroke="#111" stroke-width="0.9"/>
<line x1="232.05" y1="209.43" x2="234.05" y2="209.43" stroke="#111" stroke-width="0.9"/>
<line x1="221.2" y1="194.65" x2="221.2" y2="201.41" stroke="#111" stroke-width="0.9"/>
<line x1="220.2" y1="194.65" x2="222.2" y2="194.65" stroke="#111" stroke-width="0.9"/>
<line x1="220.2" y1="201.41" x2="222.2" y2="201.41" stroke="#111" stroke-width="0.9"/>
<line x1="233.05" y1="205.63" x2="233.05" y2="215.77" stroke="#111" stroke-width="0.9"/>
<line x1="232.05" y1="205.63" x2="234.05" y2="205.63" stroke="#111" stroke-width="0.9"/>
<line x1="232.05" y1="215.77" x2="234.05" y2="215.77" stroke="#111" stroke-width="0.9"/>
<line x1="197.5" y1="213.66" x2="197.5" y2="220.42" stroke="#111" stroke-width="0.9"/>
<line x1="196.5" y1="213.66" x2="198.5" y2="213.66" stroke="#111" stroke-width="0.9"/>
<line x1="196.5" y1="220.42" x2="198.5" y2="220.42" stroke="#111" stroke-width="0.9"/>
<line x1="209.35" y1="217.88" x2="209.35" y2="224.64" stroke="#111" stroke-width="0.9"/>
<line x1="208.35" y1="217.88" x2="210.35" y2="217.88" stroke="#111" stroke-width="0.9"/>
<line x1="208.35" y1="224.64" x2="210.35" y2="224.64" stroke="#111" stroke-width="0.9"/>
<line x1="221.2" y1="221.26" x2="221.2" y2="229.71" stroke="#111" stroke-width="0.9"/>
<line x1="220.2" y1="221.26" x2="222.2" y2="221.26" stroke="#111" stroke-width="0.9"/>
<line x1="220.2" y1="229.71" x2="222.2" y2="229.71" stroke="#111" stroke-width="0.9"/>
<line x1="233.05" y1="221.26" x2="233.05" y2="229.71" stroke="#111" stroke-width="0.9"/>
<line x1="232.05" y1="221.26" x2="234.05" y2="221.26" stroke="#111" stroke-width="0.9"/>
<line x1="232.05" y1="229.71" x2="234.05" y2="229.71" stroke="#111" stroke-width="0.9"/>
<line x1="272.5" y1="182" x2="272.5" y2="245.1" stroke="#000" stroke-width="1.3"/>
<line x1="271.9" y1="244.5" x2="342.5" y2="244.5" stroke="#000" stroke-width="1.3"/>
<line x1="269.5" y1="244.5" x2="272.5" y2="244.5" stroke="#000" stroke-width="1"/>
<text x="267.1" y="246.39" font-size="5.4" text-anchor="end">0</text>
<line x1="269.5" y1="236.05" x2="272.5" y2="236.05" stroke="#000" stroke-width="1"/>
<text x="267.1" y="237.94" font-size="5.4" text-anchor="end">20</text>
<line x1="269.5" y1="227.6" x2="272.5" y2="227.6" stroke="#000" stroke-width="1"/>
<text x="267.1" y="229.49" font-size="5.4" text-anchor="end">40</text>
<line x1="269.5" y1="219.15" x2="272.5" y2="219.15" stroke="#000" stroke-width="1"/>
<text x="267.1" y="221.04" font-size="5.4" text-anchor="end">60</text>
<line x1="269.5" y1="210.7" x2="272.5" y2="210.7" stroke="#000" stroke-width="1"/>
<text x="267.1" y="212.59" font-size="5.4" text-anchor="end">80</text>
<line x1="269.5" y1="202.25" x2="272.5" y2="202.25" stroke="#000" stroke-width="1"/>
<text x="267.1" y="204.14" font-size="5.4" text-anchor="end">100</text>
<line x1="269.5" y1="193.8" x2="272.5" y2="193.8" stroke="#000" stroke-width="1"/>
<text x="267.1" y="195.69" font-size="5.4" text-anchor="end">120</text>
<line x1="269.5" y1="185.35" x2="272.5" y2="185.35" stroke="#000" stroke-width="1"/>
<text x="267.1" y="187.24" font-size="5.4" text-anchor="end">140</text>
<line x1="278" y1="244.5" x2="278" y2="246.3" stroke="#000" stroke-width="0.8"/>
<text x="278" y="250.85" font-size="5.3" text-anchor="middle">2</text>
<line x1="289.9" y1="244.5" x2="289.9" y2="246.3" stroke="#000" stroke-width="0.8"/>
<text x="289.9" y="250.85" font-size="5.3" text-anchor="middle">4</text>
<line x1="301.8" y1="244.5" x2="301.8" y2="246.3" stroke="#000" stroke-width="0.8"/>
<text x="301.8" y="250.85" font-size="5.3" text-anchor="middle">6</text>
<line x1="313.7" y1="244.5" x2="313.7" y2="246.3" stroke="#000" stroke-width="0.8"/>
<text x="313.7" y="250.85" font-size="5.3" text-anchor="middle">8</text>
<line x1="325.6" y1="244.5" x2="325.6" y2="246.3" stroke="#000" stroke-width="0.8"/>
<text x="325.6" y="250.85" font-size="5.3" text-anchor="middle">10</text>
<line x1="337.5" y1="244.5" x2="337.5" y2="246.3" stroke="#000" stroke-width="0.8"/>
<text x="337.5" y="250.85" font-size="5.3" text-anchor="middle">12</text>
<text x="307.5" y="260.5" font-size="6.3" text-anchor="middle">Days after shRNA transduction</text>
<text x="308" y="179.12" font-size="7.5" text-anchor="middle">Negative control shRNA</text>
<polyline points="278,202.25 289.9,203.52 301.8,203.94 313.7,204.36 325.6,203.94 337.5,204.36" fill="none" stroke="#d41c40" stroke-width="1.9" stroke-linejoin="round"/>
<polyline points="278,202.25 289.9,203.52 301.8,203.52 313.7,203.52 325.6,203.09 337.5,203.52" fill="none" stroke="#b42c88" stroke-width="1.9" stroke-linejoin="round"/>
<polyline points="278,202.25 289.9,203.09 301.8,203.52 313.7,203.52 325.6,203.09 337.5,203.09" fill="none" stroke="#c0223a" stroke-width="1.9" stroke-linejoin="round"/>
<polyline points="278,202.25 289.9,203.09 301.8,202.67 313.7,203.09 325.6,202.67 337.5,202.67" fill="none" stroke="#d23c4c" stroke-width="1.9" stroke-linejoin="round"/>
<polyline points="278,202.25 289.9,204.78 301.8,203.09 313.7,204.36 325.6,205.21 337.5,205.63" fill="none" stroke="#1c1c44" stroke-width="1.9" stroke-linejoin="round"/>
<polyline points="278,202.25 289.9,204.36 301.8,203.09 313.7,203.94 325.6,204.36 337.5,204.78" fill="none" stroke="#3d1845" stroke-width="1.9" stroke-linejoin="round"/>
<polyline points="278,202.25 289.9,202.25 301.8,200.98 313.7,199.72 325.6,198.87 337.5,198.87" fill="none" stroke="#2e6c9c" stroke-width="1.9" stroke-linejoin="round"/>
<polyline points="278,202.25 289.9,200.98 301.8,200.14 313.7,198.03 325.6,194.65 337.5,196.76" fill="none" stroke="#45aacb" stroke-width="1.9" stroke-linejoin="round"/>
<polyline points="278,202.25 289.9,202.67 301.8,202.25 313.7,201.83 325.6,202.25 337.5,202.25" fill="none" stroke="#8a7cae" stroke-width="1.9" stroke-linejoin="round"/>
<circle cx="278" cy="202.25" r="1.9" fill="#d41c40"/>
<circle cx="289.9" cy="203.52" r="1.9" fill="#d41c40"/>
<circle cx="301.8" cy="203.94" r="1.9" fill="#d41c40"/>
<circle cx="313.7" cy="204.36" r="1.9" fill="#d41c40"/>
<circle cx="325.6" cy="203.94" r="1.9" fill="#d41c40"/>
<circle cx="337.5" cy="204.36" r="1.9" fill="#d41c40"/>
<path d="M278 199.78L280.47 204.15L275.53 204.15Z" fill="#b42c88"/>
<path d="M289.9 201.05L292.37 205.42L287.43 205.42Z" fill="#b42c88"/>
<path d="M301.8 201.05L304.27 205.42L299.33 205.42Z" fill="#b42c88"/>
<path d="M313.7 201.05L316.17 205.42L311.23 205.42Z" fill="#b42c88"/>
<path d="M325.6 200.62L328.07 205L323.13 205Z" fill="#b42c88"/>
<path d="M337.5 201.05L339.97 205.42L335.03 205.42Z" fill="#b42c88"/>
<path d="M278 199.78L280.47 202.25L278 204.72L275.53 202.25Z" fill="#c0223a"/>
<path d="M289.9 200.62L292.37 203.09L289.9 205.56L287.43 203.09Z" fill="#c0223a"/>
<path d="M301.8 201.05L304.27 203.52L301.8 205.99L299.33 203.52Z" fill="#c0223a"/>
<path d="M313.7 201.05L316.17 203.52L313.7 205.99L311.23 203.52Z" fill="#c0223a"/>
<path d="M325.6 200.62L328.07 203.09L325.6 205.56L323.13 203.09Z" fill="#c0223a"/>
<path d="M337.5 200.62L339.97 203.09L337.5 205.56L335.03 203.09Z" fill="#c0223a"/>
<path d="M278 199.78L280.47 204.15L275.53 204.15Z" fill="#1c1c44"/>
<path d="M289.9 202.31L292.37 206.69L287.43 206.69Z" fill="#1c1c44"/>
<path d="M301.8 200.62L304.27 205L299.33 205Z" fill="#1c1c44"/>
<path d="M313.7 201.89L316.17 206.26L311.23 206.26Z" fill="#1c1c44"/>
<path d="M325.6 202.74L328.07 207.11L323.13 207.11Z" fill="#1c1c44"/>
<path d="M337.5 203.16L339.97 207.53L335.03 207.53Z" fill="#1c1c44"/>
<path d="M278 199.78L280.47 202.25L278 204.72L275.53 202.25Z" fill="#3d1845"/>
<path d="M289.9 201.89L292.37 204.36L289.9 206.83L287.43 204.36Z" fill="#3d1845"/>
<path d="M301.8 200.62L304.27 203.09L301.8 205.56L299.33 203.09Z" fill="#3d1845"/>
<path d="M313.7 201.47L316.17 203.94L313.7 206.41L311.23 203.94Z" fill="#3d1845"/>
<path d="M325.6 201.89L328.07 204.36L325.6 206.83L323.13 204.36Z" fill="#3d1845"/>
<path d="M337.5 202.31L339.97 204.78L337.5 207.25L335.03 204.78Z" fill="#3d1845"/>
<rect x="276.1" y="200.35" width="3.8" height="3.8" fill="#2e6c9c"/>
<rect x="288" y="200.35" width="3.8" height="3.8" fill="#2e6c9c"/>
<rect x="299.9" y="199.08" width="3.8" height="3.8" fill="#2e6c9c"/>
<rect x="311.8" y="197.81" width="3.8" height="3.8" fill="#2e6c9c"/>
<rect x="323.7" y="196.97" width="3.8" height="3.8" fill="#2e6c9c"/>
<rect x="335.6" y="196.97" width="3.8" height="3.8" fill="#2e6c9c"/>
<circle cx="278" cy="202.25" r="1.9" fill="#45aacb"/>
<circle cx="289.9" cy="200.98" r="1.9" fill="#45aacb"/>
<circle cx="301.8" cy="200.14" r="1.9" fill="#45aacb"/>
<circle cx="313.7" cy="198.03" r="1.9" fill="#45aacb"/>
<circle cx="325.6" cy="194.65" r="1.9" fill="#45aacb"/>
<circle cx="337.5" cy="196.76" r="1.9" fill="#45aacb"/>
<rect x="276.1" y="200.35" width="3.8" height="3.8" fill="#8a7cae"/>
<rect x="288" y="200.77" width="3.8" height="3.8" fill="#8a7cae"/>
<rect x="299.9" y="200.35" width="3.8" height="3.8" fill="#8a7cae"/>
<rect x="311.8" y="199.93" width="3.8" height="3.8" fill="#8a7cae"/>
<rect x="323.7" y="200.35" width="3.8" height="3.8" fill="#8a7cae"/>
<rect x="335.6" y="200.35" width="3.8" height="3.8" fill="#8a7cae"/>
<line x1="289.9" y1="198.45" x2="289.9" y2="208.59" stroke="#111" stroke-width="0.9"/>
<line x1="288.9" y1="198.45" x2="290.9" y2="198.45" stroke="#111" stroke-width="0.9"/>
<line x1="288.9" y1="208.59" x2="290.9" y2="208.59" stroke="#111" stroke-width="0.9"/>
<line x1="301.8" y1="197.18" x2="301.8" y2="207.32" stroke="#111" stroke-width="0.9"/>
<line x1="300.8" y1="197.18" x2="302.8" y2="197.18" stroke="#111" stroke-width="0.9"/>
<line x1="300.8" y1="207.32" x2="302.8" y2="207.32" stroke="#111" stroke-width="0.9"/>
<line x1="313.7" y1="198.87" x2="313.7" y2="205.63" stroke="#111" stroke-width="0.9"/>
<line x1="312.7" y1="198.87" x2="314.7" y2="198.87" stroke="#111" stroke-width="0.9"/>
<line x1="312.7" y1="205.63" x2="314.7" y2="205.63" stroke="#111" stroke-width="0.9"/>
<line x1="325.6" y1="198.03" x2="325.6" y2="206.47" stroke="#111" stroke-width="0.9"/>
<line x1="324.6" y1="198.03" x2="326.6" y2="198.03" stroke="#111" stroke-width="0.9"/>
<line x1="324.6" y1="206.47" x2="326.6" y2="206.47" stroke="#111" stroke-width="0.9"/>
<line x1="337.5" y1="198.03" x2="337.5" y2="206.47" stroke="#111" stroke-width="0.9"/>
<line x1="336.5" y1="198.03" x2="338.5" y2="198.03" stroke="#111" stroke-width="0.9"/>
<line x1="336.5" y1="206.47" x2="338.5" y2="206.47" stroke="#111" stroke-width="0.9"/>
<text x="23.6" y="216.34" font-size="6.7" text-anchor="middle" transform="rotate(-90 23.6 214)">Live shRNA-transduced</text>
<text x="33.1" y="218.31" font-size="6.9" text-anchor="middle" transform="rotate(-90 33.1 215.9)">cells (% of day 2</text>
<text x="42.5" y="218.96" font-size="7.3" text-anchor="middle" transform="rotate(-90 42.5 216.4)">fraction)</text>
<rect x="360.5" y="180.5" width="154.5" height="69.7" fill="#fff" stroke="#111" stroke-width="1"/>
<text x="379" y="189.75" font-size="5" text-anchor="middle">Cell</text>
<text x="379" y="196.25" font-size="5" text-anchor="middle">line</text>
<text x="414.6" y="189.75" font-size="5" text-anchor="middle">MALT1</text>
<text x="414.6" y="196.25" font-size="5" text-anchor="middle">activity</text>
<text x="456.5" y="189.75" font-size="5" text-anchor="middle">Cell</text>
<text x="456.5" y="196.25" font-size="5" text-anchor="middle">line</text>
<text x="496.5" y="189.75" font-size="5" text-anchor="middle">MALT1</text>
<text x="496.5" y="196.25" font-size="5" text-anchor="middle">activity</text>
<line x1="363.5" y1="201" x2="396" y2="201" stroke="#000" stroke-width="1.1"/>
<line x1="398.5" y1="201" x2="431.5" y2="201" stroke="#000" stroke-width="1.1"/>
<line x1="434" y1="201" x2="479.5" y2="201" stroke="#000" stroke-width="1.1"/>
<line x1="482" y1="201" x2="511" y2="201" stroke="#000" stroke-width="1.1"/>
<line x1="362.5" y1="207" x2="370.5" y2="207" stroke="#c0223a" stroke-width="1.5"/>
<path d="M366.5 204.72L368.77 207L366.5 209.28L364.23 207Z" fill="#c0223a"/>
<text x="372.8" y="208.91" font-size="5.45">Jeko-1</text>
<text x="414.6" y="208.91" font-size="5.45" text-anchor="middle">Activated</text>
<line x1="362.5" y1="215.9" x2="370.5" y2="215.9" stroke="#d41c40" stroke-width="1.5"/>
<circle cx="366.5" cy="215.9" r="1.75" fill="#d41c40"/>
<text x="372.8" y="217.81" font-size="5.45">Rec-1</text>
<text x="414.6" y="217.81" font-size="5.45" text-anchor="middle">Activated</text>
<line x1="362.5" y1="224.8" x2="370.5" y2="224.8" stroke="#b42c88" stroke-width="1.5"/>
<path d="M366.5 222.53L368.77 226.55L364.23 226.55Z" fill="#b42c88"/>
<text x="372.8" y="226.71" font-size="5.45">SP53</text>
<text x="414.6" y="226.71" font-size="5.45" text-anchor="middle">Activated</text>
<line x1="362.5" y1="233.7" x2="370.5" y2="233.7" stroke="#d23c4c" stroke-width="1.5"/>
<text x="372.8" y="235.61" font-size="5.45">SP49</text>
<text x="414.6" y="235.61" font-size="5.45" text-anchor="middle">Activated</text>
<line x1="437.8" y1="207" x2="445.8" y2="207" stroke="#2e6c9c" stroke-width="1.5"/>
<rect x="440.05" y="205.25" width="3.5" height="3.5" fill="#2e6c9c"/>
<text x="447.6" y="208.91" font-size="5.45">Maver-1</text>
<text x="496.5" y="208.91" font-size="5.45" text-anchor="middle">Inactive</text>
<line x1="437.8" y1="215.9" x2="445.8" y2="215.9" stroke="#1c1c44" stroke-width="1.5"/>
<path d="M441.8 213.62L444.07 217.65L439.53 217.65Z" fill="#1c1c44"/>
<text x="447.6" y="217.81" font-size="5.45">Z-138</text>
<text x="496.5" y="217.81" font-size="5.45" text-anchor="middle">Inactive</text>
<line x1="437.8" y1="224.8" x2="445.8" y2="224.8" stroke="#45aacb" stroke-width="1.5"/>
<circle cx="441.8" cy="224.8" r="1.75" fill="#45aacb"/>
<text x="447.6" y="226.71" font-size="5.45">Granta-519</text>
<text x="496.5" y="226.71" font-size="5.45" text-anchor="middle">Inactive</text>
<line x1="437.8" y1="233.7" x2="445.8" y2="233.7" stroke="#3d1845" stroke-width="1.5"/>
<path d="M441.8 231.42L444.07 233.7L441.8 235.97L439.53 233.7Z" fill="#3d1845"/>
<text x="447.6" y="235.61" font-size="5.45">JVM-2</text>
<text x="496.5" y="235.61" font-size="5.45" text-anchor="middle">Inactive</text>
<line x1="437.8" y1="242.6" x2="445.8" y2="242.6" stroke="#8a7cae" stroke-width="1.5"/>
<rect x="440.05" y="240.85" width="3.5" height="3.5" fill="#8a7cae"/>
<text x="447.6" y="244.51" font-size="5.45">JVM-13</text>
<text x="496.5" y="244.51" font-size="5.45" text-anchor="middle">Inactive</text>
<line x1="46.3" y1="279.5" x2="46.3" y2="323.1" stroke="#000" stroke-width="1.3"/>
<line x1="45.7" y1="322.5" x2="105.8" y2="322.5" stroke="#000" stroke-width="1.3"/>
<line x1="43.3" y1="322.5" x2="46.3" y2="322.5" stroke="#000" stroke-width="1"/>
<text x="41.1" y="324.43" font-size="5.5" text-anchor="end">50</text>
<line x1="43.3" y1="314.26" x2="46.3" y2="314.26" stroke="#000" stroke-width="1"/>
<text x="41.1" y="316.19" font-size="5.5" text-anchor="end">100</text>
<line x1="43.3" y1="306.02" x2="46.3" y2="306.02" stroke="#000" stroke-width="1"/>
<text x="41.1" y="307.94" font-size="5.5" text-anchor="end">150</text>
<line x1="43.3" y1="297.78" x2="46.3" y2="297.78" stroke="#000" stroke-width="1"/>
<text x="41.1" y="299.71" font-size="5.5" text-anchor="end">200</text>
<line x1="43.3" y1="289.54" x2="46.3" y2="289.54" stroke="#000" stroke-width="1"/>
<text x="41.1" y="291.47" font-size="5.5" text-anchor="end">250</text>
<line x1="43.3" y1="281.3" x2="46.3" y2="281.3" stroke="#000" stroke-width="1"/>
<text x="41.1" y="283.23" font-size="5.5" text-anchor="end">300</text>
<line x1="51.3" y1="322.5" x2="51.3" y2="324.3" stroke="#000" stroke-width="0.9"/>
<text x="51.3" y="329.49" font-size="5.4" text-anchor="middle">2</text>
<line x1="61.55" y1="322.5" x2="61.55" y2="324.3" stroke="#000" stroke-width="0.9"/>
<text x="61.55" y="329.49" font-size="5.4" text-anchor="middle">4</text>
<line x1="71.8" y1="322.5" x2="71.8" y2="324.3" stroke="#000" stroke-width="0.9"/>
<text x="71.8" y="329.49" font-size="5.4" text-anchor="middle">6</text>
<line x1="82.05" y1="322.5" x2="82.05" y2="324.3" stroke="#000" stroke-width="0.9"/>
<text x="82.05" y="329.49" font-size="5.4" text-anchor="middle">8</text>
<line x1="92.3" y1="322.5" x2="92.3" y2="324.3" stroke="#000" stroke-width="0.9"/>
<text x="92.3" y="329.49" font-size="5.4" text-anchor="middle">10</text>
<line x1="102.55" y1="322.5" x2="102.55" y2="324.3" stroke="#000" stroke-width="0.9"/>
<text x="102.55" y="329.49" font-size="5.4" text-anchor="middle">12</text>
<text x="76.8" y="279.3" font-size="7.7" text-anchor="middle">Jeko-1</text>
<text x="76.3" y="338.55" font-size="6.7" text-anchor="middle">Days after</text>
<text x="76.8" y="347.16" font-size="6.75" text-anchor="middle">cDNA transduction</text>
<polyline points="51.3,314.26 61.55,313.27 71.8,312.94 82.05,312.94 92.3,312.94 102.55,312.78" fill="none" stroke="#c8403a" stroke-width="1.9" stroke-linejoin="round"/>
<circle cx="51.3" cy="314.26" r="1.6" fill="#c8403a"/>
<circle cx="61.55" cy="313.27" r="1.6" fill="#c8403a"/>
<circle cx="71.8" cy="312.94" r="1.6" fill="#c8403a"/>
<circle cx="82.05" cy="312.94" r="1.6" fill="#c8403a"/>
<circle cx="92.3" cy="312.94" r="1.6" fill="#c8403a"/>
<circle cx="102.55" cy="312.78" r="1.6" fill="#c8403a"/>
<polyline points="51.3,314.26 61.55,306.02 71.8,303.05 82.05,298.6 92.3,296.96 102.55,295.8" fill="none" stroke="#4aaedb" stroke-width="1.9" stroke-linejoin="round"/>
<circle cx="51.3" cy="314.26" r="1.6" fill="#4aaedb"/>
<circle cx="61.55" cy="306.02" r="1.6" fill="#4aaedb"/>
<circle cx="71.8" cy="303.05" r="1.6" fill="#4aaedb"/>
<circle cx="82.05" cy="298.6" r="1.6" fill="#4aaedb"/>
<circle cx="92.3" cy="296.96" r="1.6" fill="#4aaedb"/>
<circle cx="102.55" cy="295.8" r="1.6" fill="#4aaedb"/>
<line x1="61.55" y1="304.37" x2="61.55" y2="307.67" stroke="#111" stroke-width="1"/>
<line x1="60.45" y1="304.37" x2="62.65" y2="304.37" stroke="#111" stroke-width="1"/>
<line x1="60.45" y1="307.67" x2="62.65" y2="307.67" stroke="#111" stroke-width="1"/>
<line x1="71.8" y1="301.08" x2="71.8" y2="305.03" stroke="#111" stroke-width="1"/>
<line x1="70.7" y1="301.08" x2="72.9" y2="301.08" stroke="#111" stroke-width="1"/>
<line x1="70.7" y1="305.03" x2="72.9" y2="305.03" stroke="#111" stroke-width="1"/>
<line x1="92.3" y1="295.64" x2="92.3" y2="298.27" stroke="#111" stroke-width="1"/>
<line x1="91.2" y1="295.64" x2="93.4" y2="295.64" stroke="#111" stroke-width="1"/>
<line x1="91.2" y1="298.27" x2="93.4" y2="298.27" stroke="#111" stroke-width="1"/>
<line x1="102.55" y1="294.81" x2="102.55" y2="296.79" stroke="#111" stroke-width="1"/>
<line x1="101.45" y1="294.81" x2="103.65" y2="294.81" stroke="#111" stroke-width="1"/>
<line x1="101.45" y1="296.79" x2="103.65" y2="296.79" stroke="#111" stroke-width="1"/>
<line x1="138.2" y1="279.5" x2="138.2" y2="323.1" stroke="#000" stroke-width="1.3"/>
<line x1="137.6" y1="322.5" x2="197.7" y2="322.5" stroke="#000" stroke-width="1.3"/>
<line x1="135.2" y1="322.5" x2="138.2" y2="322.5" stroke="#000" stroke-width="1"/>
<text x="133" y="324.43" font-size="5.5" text-anchor="end">50</text>
<line x1="135.2" y1="312.2" x2="138.2" y2="312.2" stroke="#000" stroke-width="1"/>
<text x="133" y="314.12" font-size="5.5" text-anchor="end">100</text>
<line x1="135.2" y1="301.9" x2="138.2" y2="301.9" stroke="#000" stroke-width="1"/>
<text x="133" y="303.82" font-size="5.5" text-anchor="end">150</text>
<line x1="135.2" y1="291.6" x2="138.2" y2="291.6" stroke="#000" stroke-width="1"/>
<text x="133" y="293.53" font-size="5.5" text-anchor="end">200</text>
<line x1="135.2" y1="281.3" x2="138.2" y2="281.3" stroke="#000" stroke-width="1"/>
<text x="133" y="283.23" font-size="5.5" text-anchor="end">250</text>
<line x1="143.3" y1="322.5" x2="143.3" y2="324.3" stroke="#000" stroke-width="0.9"/>
<text x="143.3" y="329.49" font-size="5.4" text-anchor="middle">2</text>
<line x1="153.15" y1="322.5" x2="153.15" y2="324.3" stroke="#000" stroke-width="0.9"/>
<text x="153.15" y="329.49" font-size="5.4" text-anchor="middle">4</text>
<line x1="163" y1="322.5" x2="163" y2="324.3" stroke="#000" stroke-width="0.9"/>
<text x="163" y="329.49" font-size="5.4" text-anchor="middle">6</text>
<line x1="172.85" y1="322.5" x2="172.85" y2="324.3" stroke="#000" stroke-width="0.9"/>
<text x="172.85" y="329.49" font-size="5.4" text-anchor="middle">8</text>
<line x1="182.7" y1="322.5" x2="182.7" y2="324.3" stroke="#000" stroke-width="0.9"/>
<text x="182.7" y="329.49" font-size="5.4" text-anchor="middle">10</text>
<line x1="192.55" y1="322.5" x2="192.55" y2="324.3" stroke="#000" stroke-width="0.9"/>
<text x="192.55" y="329.49" font-size="5.4" text-anchor="middle">12</text>
<text x="168.7" y="279.3" font-size="7.7" text-anchor="middle">Rec-1</text>
<text x="168.2" y="338.55" font-size="6.7" text-anchor="middle">Days after</text>
<text x="168.7" y="347.16" font-size="6.75" text-anchor="middle">cDNA transduction</text>
<polyline points="143.3,312.2 153.15,312.2 163,311.99 172.85,311.58 182.7,311.79 192.55,311.58" fill="none" stroke="#c8403a" stroke-width="1.9" stroke-linejoin="round"/>
<circle cx="143.3" cy="312.2" r="1.6" fill="#c8403a"/>
<circle cx="153.15" cy="312.2" r="1.6" fill="#c8403a"/>
<circle cx="163" cy="311.99" r="1.6" fill="#c8403a"/>
<circle cx="172.85" cy="311.58" r="1.6" fill="#c8403a"/>
<circle cx="182.7" cy="311.79" r="1.6" fill="#c8403a"/>
<circle cx="192.55" cy="311.58" r="1.6" fill="#c8403a"/>
<polyline points="143.3,312.2 153.15,312.2 163,304.99 172.85,300.87 182.7,300.46 192.55,298.19" fill="none" stroke="#4aaedb" stroke-width="1.9" stroke-linejoin="round"/>
<circle cx="143.3" cy="312.2" r="1.6" fill="#4aaedb"/>
<circle cx="153.15" cy="312.2" r="1.6" fill="#4aaedb"/>
<circle cx="163" cy="304.99" r="1.6" fill="#4aaedb"/>
<circle cx="172.85" cy="300.87" r="1.6" fill="#4aaedb"/>
<circle cx="182.7" cy="300.46" r="1.6" fill="#4aaedb"/>
<circle cx="192.55" cy="298.19" r="1.6" fill="#4aaedb"/>
<line x1="153.15" y1="309.11" x2="153.15" y2="315.29" stroke="#111" stroke-width="1"/>
<line x1="152.05" y1="309.11" x2="154.25" y2="309.11" stroke="#111" stroke-width="1"/>
<line x1="152.05" y1="315.29" x2="154.25" y2="315.29" stroke="#111" stroke-width="1"/>
<line x1="163" y1="303.34" x2="163" y2="306.64" stroke="#111" stroke-width="1"/>
<line x1="161.9" y1="303.34" x2="164.1" y2="303.34" stroke="#111" stroke-width="1"/>
<line x1="161.9" y1="306.64" x2="164.1" y2="306.64" stroke="#111" stroke-width="1"/>
<line x1="172.85" y1="296.75" x2="172.85" y2="304.99" stroke="#111" stroke-width="1"/>
<line x1="171.75" y1="296.75" x2="173.95" y2="296.75" stroke="#111" stroke-width="1"/>
<line x1="171.75" y1="304.99" x2="173.95" y2="304.99" stroke="#111" stroke-width="1"/>
<line x1="192.55" y1="296.13" x2="192.55" y2="300.25" stroke="#111" stroke-width="1"/>
<line x1="191.45" y1="296.13" x2="193.65" y2="296.13" stroke="#111" stroke-width="1"/>
<line x1="191.45" y1="300.25" x2="193.65" y2="300.25" stroke="#111" stroke-width="1"/>
<line x1="282.5" y1="279.5" x2="282.5" y2="323.1" stroke="#000" stroke-width="1.3"/>
<line x1="281.9" y1="322.5" x2="342" y2="322.5" stroke="#000" stroke-width="1.3"/>
<line x1="279.5" y1="322.5" x2="282.5" y2="322.5" stroke="#000" stroke-width="1"/>
<text x="277.3" y="324.43" font-size="5.5" text-anchor="end">50</text>
<line x1="279.5" y1="314.26" x2="282.5" y2="314.26" stroke="#000" stroke-width="1"/>
<text x="277.3" y="316.19" font-size="5.5" text-anchor="end">100</text>
<line x1="279.5" y1="306.02" x2="282.5" y2="306.02" stroke="#000" stroke-width="1"/>
<text x="277.3" y="307.94" font-size="5.5" text-anchor="end">150</text>
<line x1="279.5" y1="297.78" x2="282.5" y2="297.78" stroke="#000" stroke-width="1"/>
<text x="277.3" y="299.71" font-size="5.5" text-anchor="end">200</text>
<line x1="279.5" y1="289.54" x2="282.5" y2="289.54" stroke="#000" stroke-width="1"/>
<text x="277.3" y="291.47" font-size="5.5" text-anchor="end">250</text>
<line x1="279.5" y1="281.3" x2="282.5" y2="281.3" stroke="#000" stroke-width="1"/>
<text x="277.3" y="283.23" font-size="5.5" text-anchor="end">300</text>
<line x1="288" y1="322.5" x2="288" y2="324.3" stroke="#000" stroke-width="0.9"/>
<text x="288" y="329.49" font-size="5.4" text-anchor="middle">2</text>
<line x1="298.15" y1="322.5" x2="298.15" y2="324.3" stroke="#000" stroke-width="0.9"/>
<text x="298.15" y="329.49" font-size="5.4" text-anchor="middle">4</text>
<line x1="308.3" y1="322.5" x2="308.3" y2="324.3" stroke="#000" stroke-width="0.9"/>
<text x="308.3" y="329.49" font-size="5.4" text-anchor="middle">6</text>
<line x1="318.45" y1="322.5" x2="318.45" y2="324.3" stroke="#000" stroke-width="0.9"/>
<text x="318.45" y="329.49" font-size="5.4" text-anchor="middle">8</text>
<line x1="328.6" y1="322.5" x2="328.6" y2="324.3" stroke="#000" stroke-width="0.9"/>
<text x="328.6" y="329.49" font-size="5.4" text-anchor="middle">10</text>
<line x1="338.75" y1="322.5" x2="338.75" y2="324.3" stroke="#000" stroke-width="0.9"/>
<text x="338.75" y="329.49" font-size="5.4" text-anchor="middle">12</text>
<text x="313" y="279.3" font-size="7.7" text-anchor="middle">Jeko-1</text>
<text x="312.5" y="338.55" font-size="6.7" text-anchor="middle">Days after</text>
<text x="313" y="347.16" font-size="6.75" text-anchor="middle">cDNA transduction</text>
<polyline points="288,314.26 298.15,312.94 308.3,312.61 318.45,312.61 328.6,312.28 338.75,311.62" fill="none" stroke="#c8403a" stroke-width="1.9" stroke-linejoin="round"/>
<circle cx="288" cy="314.26" r="1.6" fill="#c8403a"/>
<circle cx="298.15" cy="312.94" r="1.6" fill="#c8403a"/>
<circle cx="308.3" cy="312.61" r="1.6" fill="#c8403a"/>
<circle cx="318.45" cy="312.61" r="1.6" fill="#c8403a"/>
<circle cx="328.6" cy="312.28" r="1.6" fill="#c8403a"/>
<circle cx="338.75" cy="311.62" r="1.6" fill="#c8403a"/>
<polyline points="288,314.26 298.15,303.55 308.3,298.6 318.45,296.96 328.6,289.54 338.75,292.01" fill="none" stroke="#4aaedb" stroke-width="1.9" stroke-linejoin="round"/>
<circle cx="288" cy="314.26" r="1.6" fill="#4aaedb"/>
<circle cx="298.15" cy="303.55" r="1.6" fill="#4aaedb"/>
<circle cx="308.3" cy="298.6" r="1.6" fill="#4aaedb"/>
<circle cx="318.45" cy="296.96" r="1.6" fill="#4aaedb"/>
<circle cx="328.6" cy="289.54" r="1.6" fill="#4aaedb"/>
<circle cx="338.75" cy="292.01" r="1.6" fill="#4aaedb"/>
<line x1="298.15" y1="298.6" x2="298.15" y2="308.49" stroke="#111" stroke-width="1"/>
<line x1="297.05" y1="298.6" x2="299.25" y2="298.6" stroke="#111" stroke-width="1"/>
<line x1="297.05" y1="308.49" x2="299.25" y2="308.49" stroke="#111" stroke-width="1"/>
<line x1="308.3" y1="293.99" x2="308.3" y2="303.22" stroke="#111" stroke-width="1"/>
<line x1="307.2" y1="293.99" x2="309.4" y2="293.99" stroke="#111" stroke-width="1"/>
<line x1="307.2" y1="303.22" x2="309.4" y2="303.22" stroke="#111" stroke-width="1"/>
<line x1="318.45" y1="293.99" x2="318.45" y2="299.92" stroke="#111" stroke-width="1"/>
<line x1="317.35" y1="293.99" x2="319.55" y2="293.99" stroke="#111" stroke-width="1"/>
<line x1="317.35" y1="299.92" x2="319.55" y2="299.92" stroke="#111" stroke-width="1"/>
<line x1="328.6" y1="282.12" x2="328.6" y2="296.96" stroke="#111" stroke-width="1"/>
<line x1="327.5" y1="282.12" x2="329.7" y2="282.12" stroke="#111" stroke-width="1"/>
<line x1="327.5" y1="296.96" x2="329.7" y2="296.96" stroke="#111" stroke-width="1"/>
<line x1="338.75" y1="282.12" x2="338.75" y2="301.9" stroke="#111" stroke-width="1"/>
<line x1="337.65" y1="282.12" x2="339.85" y2="282.12" stroke="#111" stroke-width="1"/>
<line x1="337.65" y1="301.9" x2="339.85" y2="301.9" stroke="#111" stroke-width="1"/>
<line x1="375.5" y1="279.5" x2="375.5" y2="323.1" stroke="#000" stroke-width="1.3"/>
<line x1="374.9" y1="322.5" x2="435" y2="322.5" stroke="#000" stroke-width="1.3"/>
<line x1="372.5" y1="322.5" x2="375.5" y2="322.5" stroke="#000" stroke-width="1"/>
<text x="370.3" y="324.43" font-size="5.5" text-anchor="end">50</text>
<line x1="372.5" y1="312.07" x2="375.5" y2="312.07" stroke="#000" stroke-width="1"/>
<text x="370.3" y="314" font-size="5.5" text-anchor="end">100</text>
<line x1="372.5" y1="301.65" x2="375.5" y2="301.65" stroke="#000" stroke-width="1"/>
<text x="370.3" y="303.57" font-size="5.5" text-anchor="end">150</text>
<line x1="372.5" y1="291.23" x2="375.5" y2="291.23" stroke="#000" stroke-width="1"/>
<text x="370.3" y="293.15" font-size="5.5" text-anchor="end">200</text>
<line x1="372.5" y1="280.8" x2="375.5" y2="280.8" stroke="#000" stroke-width="1"/>
<text x="370.3" y="282.73" font-size="5.5" text-anchor="end">250</text>
<line x1="380" y1="322.5" x2="380" y2="324.3" stroke="#000" stroke-width="0.9"/>
<text x="380" y="329.49" font-size="5.4" text-anchor="middle">2</text>
<line x1="390" y1="322.5" x2="390" y2="324.3" stroke="#000" stroke-width="0.9"/>
<text x="390" y="329.49" font-size="5.4" text-anchor="middle">4</text>
<line x1="400" y1="322.5" x2="400" y2="324.3" stroke="#000" stroke-width="0.9"/>
<text x="400" y="329.49" font-size="5.4" text-anchor="middle">6</text>
<line x1="410" y1="322.5" x2="410" y2="324.3" stroke="#000" stroke-width="0.9"/>
<text x="410" y="329.49" font-size="5.4" text-anchor="middle">8</text>
<line x1="420" y1="322.5" x2="420" y2="324.3" stroke="#000" stroke-width="0.9"/>
<text x="420" y="329.49" font-size="5.4" text-anchor="middle">10</text>
<line x1="430" y1="322.5" x2="430" y2="324.3" stroke="#000" stroke-width="0.9"/>
<text x="430" y="329.49" font-size="5.4" text-anchor="middle">12</text>
<text x="406" y="279.3" font-size="7.7" text-anchor="middle">Rec-1</text>
<text x="405.5" y="338.55" font-size="6.7" text-anchor="middle">Days after</text>
<text x="406" y="347.16" font-size="6.75" text-anchor="middle">cDNA transduction</text>
<polyline points="380,312.07 390,308.95 400,308.95 410,308.32 420,308.32 430,307.49" fill="none" stroke="#c8403a" stroke-width="1.9" stroke-linejoin="round"/>
<circle cx="380" cy="312.07" r="1.6" fill="#c8403a"/>
<circle cx="390" cy="308.95" r="1.6" fill="#c8403a"/>
<circle cx="400" cy="308.95" r="1.6" fill="#c8403a"/>
<circle cx="410" cy="308.32" r="1.6" fill="#c8403a"/>
<circle cx="420" cy="308.32" r="1.6" fill="#c8403a"/>
<circle cx="430" cy="307.49" r="1.6" fill="#c8403a"/>
<line x1="400" y1="305.82" x2="400" y2="312.07" stroke="#111" stroke-width="1"/>
<line x1="398.9" y1="305.82" x2="401.1" y2="305.82" stroke="#111" stroke-width="1"/>
<line x1="398.9" y1="312.07" x2="401.1" y2="312.07" stroke="#111" stroke-width="1"/>
<line x1="410" y1="305.19" x2="410" y2="311.45" stroke="#111" stroke-width="1"/>
<line x1="408.9" y1="305.19" x2="411.1" y2="305.19" stroke="#111" stroke-width="1"/>
<line x1="408.9" y1="311.45" x2="411.1" y2="311.45" stroke="#111" stroke-width="1"/>
<line x1="420" y1="305.19" x2="420" y2="311.45" stroke="#111" stroke-width="1"/>
<line x1="418.9" y1="305.19" x2="421.1" y2="305.19" stroke="#111" stroke-width="1"/>
<line x1="418.9" y1="311.45" x2="421.1" y2="311.45" stroke="#111" stroke-width="1"/>
<line x1="430" y1="303.74" x2="430" y2="311.24" stroke="#111" stroke-width="1"/>
<line x1="428.9" y1="303.74" x2="431.1" y2="303.74" stroke="#111" stroke-width="1"/>
<line x1="428.9" y1="311.24" x2="431.1" y2="311.24" stroke="#111" stroke-width="1"/>
<polyline points="380,312.07 390,309.99 400,304.78 410,295.39 420,295.39 430,293.31" fill="none" stroke="#4aaedb" stroke-width="1.9" stroke-linejoin="round"/>
<circle cx="380" cy="312.07" r="1.6" fill="#4aaedb"/>
<circle cx="390" cy="309.99" r="1.6" fill="#4aaedb"/>
<circle cx="400" cy="304.78" r="1.6" fill="#4aaedb"/>
<circle cx="410" cy="295.39" r="1.6" fill="#4aaedb"/>
<circle cx="420" cy="295.39" r="1.6" fill="#4aaedb"/>
<circle cx="430" cy="293.31" r="1.6" fill="#4aaedb"/>
<line x1="390" y1="307.49" x2="390" y2="312.49" stroke="#111" stroke-width="1"/>
<line x1="388.9" y1="307.49" x2="391.1" y2="307.49" stroke="#111" stroke-width="1"/>
<line x1="388.9" y1="312.49" x2="391.1" y2="312.49" stroke="#111" stroke-width="1"/>
<line x1="400" y1="302.28" x2="400" y2="307.28" stroke="#111" stroke-width="1"/>
<line x1="398.9" y1="302.28" x2="401.1" y2="302.28" stroke="#111" stroke-width="1"/>
<line x1="398.9" y1="307.28" x2="401.1" y2="307.28" stroke="#111" stroke-width="1"/>
<line x1="410" y1="292.27" x2="410" y2="298.52" stroke="#111" stroke-width="1"/>
<line x1="408.9" y1="292.27" x2="411.1" y2="292.27" stroke="#111" stroke-width="1"/>
<line x1="408.9" y1="298.52" x2="411.1" y2="298.52" stroke="#111" stroke-width="1"/>
<line x1="420" y1="291.64" x2="420" y2="299.15" stroke="#111" stroke-width="1"/>
<line x1="418.9" y1="291.64" x2="421.1" y2="291.64" stroke="#111" stroke-width="1"/>
<line x1="418.9" y1="299.15" x2="421.1" y2="299.15" stroke="#111" stroke-width="1"/>
<line x1="430" y1="290.81" x2="430" y2="295.81" stroke="#111" stroke-width="1"/>
<line x1="428.9" y1="290.81" x2="431.1" y2="290.81" stroke="#111" stroke-width="1"/>
<line x1="428.9" y1="295.81" x2="431.1" y2="295.81" stroke="#111" stroke-width="1"/>
<text x="26" y="306.88" font-size="6.5" text-anchor="middle" transform="rotate(-90 26 304.6)">Cell growth (%)</text>
<rect x="201" y="293.7" width="4.6" height="3.8" fill="#4aaedb"/>
<rect x="201" y="309.4" width="4.6" height="3.8" fill="#c8403a"/>
<text x="208.8" y="294.23" font-size="5.5"><tspan font-style="italic">MALT1</tspan> shRNA #1</text>
<text x="208.8" y="300.83" font-size="5.5">+ <tspan font-style="italic">MALT1</tspan> cDNA</text>
<text x="208.8" y="309.93" font-size="5.5"><tspan font-style="italic">MALT1</tspan> shRNA #1</text>
<text x="208.8" y="316.53" font-size="5.5">+ empty vector</text>
<rect x="438.3" y="290.6" width="4.6" height="3.8" fill="#4aaedb"/>
<rect x="438.3" y="306.7" width="4.6" height="3.8" fill="#c8403a"/>
<text x="446.1" y="291.12" font-size="5.5"><tspan font-style="italic">MALT1</tspan> shRNA #2</text>
<text x="446.1" y="297.73" font-size="5.5">+ <tspan font-style="italic">MALT1</tspan> cDNA</text>
<text x="446.1" y="307.23" font-size="5.5"><tspan font-style="italic">MALT1</tspan> shRNA #2</text>
<text x="446.1" y="313.83" font-size="5.5">+ empty vector</text>
<text x="92.9" y="365.96" font-size="7.6" text-anchor="middle">Jeko-1</text>
<path d="M45 371.3V368.7H141.8V371.3" fill="none" stroke="#000" stroke-width="1"/>
<text x="18.2" y="380.09" font-size="5.4">Sample:</text>
<text x="18.2" y="389.19" font-size="5.4">shRNA:</text>
<text x="54.6" y="380.09" font-size="5.4" text-anchor="middle">#1</text>
<text x="54.6" y="389.19" font-size="5.4" text-anchor="middle">Control</text>
<text x="80.8" y="380.09" font-size="5.4" text-anchor="middle">#2</text>
<text x="80.8" y="389.19" font-size="5.4" text-anchor="middle" font-style="italic">MALT1</text>
<text x="105.4" y="380.09" font-size="5.4" text-anchor="middle">#3</text>
<text x="105.4" y="389.19" font-size="5.4" text-anchor="middle">Control</text>
<text x="132.3" y="380.09" font-size="5.4" text-anchor="middle">#4</text>
<text x="132.3" y="389.19" font-size="5.4" text-anchor="middle" font-style="italic">MALT1</text>
<text x="20.5" y="401.43" font-size="5.5">MALT1</text>
<text x="20.5" y="417.53" font-size="5.5">Tubulin</text>
<rect x="45.2" y="393.7" width="45.4" height="12.5" fill="#f2f2f2" stroke="#111" stroke-width="1.2"/>
<rect x="46.5" y="396.85" width="20.9" height="5.5" rx="2.2" fill="#000" fill-opacity="1" filter="url(#b2)"/>
<rect x="68.7" y="397.8" width="20.4" height="4.2" rx="1.68" fill="#333" fill-opacity="0.47" filter="url(#b2)"/>
<rect x="45.2" y="409" width="45.4" height="12.6" fill="#e2e2e2" stroke="#111" stroke-width="1.2"/>
<rect x="46.2" y="412.55" width="21.4" height="5.5" rx="2.2" fill="#000" fill-opacity="0.95" filter="url(#b2)"/>
<rect x="68.2" y="413.01" width="21.4" height="4.98" rx="1.99" fill="#000" fill-opacity="0.95" filter="url(#b2)"/>
<rect x="95.8" y="393.7" width="45.6" height="12.5" fill="#f2f2f2" stroke="#111" stroke-width="1.2"/>
<rect x="97.1" y="396.85" width="21" height="5.5" rx="2.2" fill="#000" fill-opacity="1" filter="url(#b2)"/>
<rect x="119.4" y="397.8" width="20.5" height="4.2" rx="1.68" fill="#333" fill-opacity="0.47" filter="url(#b2)"/>
<rect x="95.8" y="409" width="45.6" height="12.6" fill="#e2e2e2" stroke="#111" stroke-width="1.2"/>
<rect x="96.8" y="412.55" width="21.5" height="5.5" rx="2.2" fill="#000" fill-opacity="0.95" filter="url(#b2)"/>
<rect x="118.9" y="413.01" width="21.5" height="4.98" rx="1.99" fill="#000" fill-opacity="0.95" filter="url(#b2)"/>
<line x1="189.9" y1="360" x2="189.9" y2="419" stroke="#000" stroke-width="1.3"/>
<line x1="189.3" y1="418.4" x2="286" y2="418.4" stroke="#000" stroke-width="1.3"/>
<line x1="187" y1="418.4" x2="189.9" y2="418.4" stroke="#000" stroke-width="1"/>
<text x="186" y="420.46" font-size="5.9" text-anchor="end">0</text>
<line x1="187" y1="411.47" x2="189.9" y2="411.47" stroke="#000" stroke-width="1"/>
<text x="186" y="413.54" font-size="5.9" text-anchor="end">0.5</text>
<line x1="187" y1="404.55" x2="189.9" y2="404.55" stroke="#000" stroke-width="1"/>
<text x="186" y="406.61" font-size="5.9" text-anchor="end">1</text>
<line x1="187" y1="397.62" x2="189.9" y2="397.62" stroke="#000" stroke-width="1"/>
<text x="186" y="399.69" font-size="5.9" text-anchor="end">1.5</text>
<line x1="187" y1="390.7" x2="189.9" y2="390.7" stroke="#000" stroke-width="1"/>
<text x="186" y="392.76" font-size="5.9" text-anchor="end">2</text>
<line x1="187" y1="383.77" x2="189.9" y2="383.77" stroke="#000" stroke-width="1"/>
<text x="186" y="385.84" font-size="5.9" text-anchor="end">2.5</text>
<line x1="187" y1="376.85" x2="189.9" y2="376.85" stroke="#000" stroke-width="1"/>
<text x="186" y="378.91" font-size="5.9" text-anchor="end">3</text>
<line x1="187" y1="369.92" x2="189.9" y2="369.92" stroke="#000" stroke-width="1"/>
<text x="186" y="371.99" font-size="5.9" text-anchor="end">3.5</text>
<line x1="187" y1="363" x2="189.9" y2="363" stroke="#000" stroke-width="1"/>
<text x="186" y="365.06" font-size="5.9" text-anchor="end">4</text>
<line x1="193.8" y1="418.4" x2="193.8" y2="420.2" stroke="#000" stroke-width="1"/>
<text x="193.8" y="424.66" font-size="5.6" text-anchor="middle">1</text>
<line x1="211.4" y1="418.4" x2="211.4" y2="420.2" stroke="#000" stroke-width="1"/>
<text x="211.4" y="424.66" font-size="5.6" text-anchor="middle">3</text>
<line x1="228.8" y1="418.4" x2="228.8" y2="420.2" stroke="#000" stroke-width="1"/>
<text x="228.8" y="424.66" font-size="5.6" text-anchor="middle">5</text>
<line x1="246.2" y1="418.4" x2="246.2" y2="420.2" stroke="#000" stroke-width="1"/>
<text x="246.2" y="424.66" font-size="5.6" text-anchor="middle">8</text>
<line x1="263.8" y1="418.4" x2="263.8" y2="420.2" stroke="#000" stroke-width="1"/>
<text x="263.8" y="424.66" font-size="5.6" text-anchor="middle">10</text>
<line x1="282" y1="418.4" x2="282" y2="420.2" stroke="#000" stroke-width="1"/>
<text x="282" y="424.66" font-size="5.6" text-anchor="middle">12</text>
<text x="238" y="433.56" font-size="7.3" text-anchor="middle">Days after tumor development</text>
<text x="169.3" y="391.52" font-size="7.2" text-anchor="middle" transform="rotate(-90 169.3 389)">Tumor volume [cm<tspan font-size="4.2" dy="-2.4">3</tspan><tspan dy="2.4">]</tspan></text>
<polyline points="193.8,415.63 211.4,410.78 228.8,406.35 246.2,395.27 263.8,383.77 282,370.2" fill="none" stroke="#c0392e" stroke-width="1.7" stroke-linejoin="round"/>
<line x1="211.4" y1="409.67" x2="211.4" y2="411.89" stroke="#111" stroke-width="1"/>
<line x1="210.3" y1="409.67" x2="212.5" y2="409.67" stroke="#111" stroke-width="1"/>
<line x1="210.3" y1="411.89" x2="212.5" y2="411.89" stroke="#111" stroke-width="1"/>
<line x1="228.8" y1="404.27" x2="228.8" y2="408.43" stroke="#111" stroke-width="1"/>
<line x1="227.7" y1="404.27" x2="229.9" y2="404.27" stroke="#111" stroke-width="1"/>
<line x1="227.7" y1="408.43" x2="229.9" y2="408.43" stroke="#111" stroke-width="1"/>
<line x1="246.2" y1="390.01" x2="246.2" y2="400.53" stroke="#111" stroke-width="1"/>
<line x1="245.1" y1="390.01" x2="247.3" y2="390.01" stroke="#111" stroke-width="1"/>
<line x1="245.1" y1="400.53" x2="247.3" y2="400.53" stroke="#111" stroke-width="1"/>
<line x1="263.8" y1="377.68" x2="263.8" y2="389.87" stroke="#111" stroke-width="1"/>
<line x1="262.7" y1="377.68" x2="264.9" y2="377.68" stroke="#111" stroke-width="1"/>
<line x1="262.7" y1="389.87" x2="264.9" y2="389.87" stroke="#111" stroke-width="1"/>
<line x1="282" y1="368.54" x2="282" y2="371.86" stroke="#111" stroke-width="1"/>
<line x1="280.9" y1="368.54" x2="283.1" y2="368.54" stroke="#111" stroke-width="1"/>
<line x1="280.9" y1="371.86" x2="283.1" y2="371.86" stroke="#111" stroke-width="1"/>
<polyline points="193.8,415.63 211.4,413.55 228.8,411.47 246.2,408.43 263.8,402.61 282,392.36" fill="none" stroke="#55a8dc" stroke-width="1.7" stroke-linejoin="round"/>
<line x1="211.4" y1="412.17" x2="211.4" y2="414.94" stroke="#111" stroke-width="1"/>
<line x1="210.3" y1="412.17" x2="212.5" y2="412.17" stroke="#111" stroke-width="1"/>
<line x1="210.3" y1="414.94" x2="212.5" y2="414.94" stroke="#111" stroke-width="1"/>
<line x1="228.8" y1="409.4" x2="228.8" y2="413.55" stroke="#111" stroke-width="1"/>
<line x1="227.7" y1="409.4" x2="229.9" y2="409.4" stroke="#111" stroke-width="1"/>
<line x1="227.7" y1="413.55" x2="229.9" y2="413.55" stroke="#111" stroke-width="1"/>
<line x1="246.2" y1="406.35" x2="246.2" y2="410.51" stroke="#111" stroke-width="1"/>
<line x1="245.1" y1="406.35" x2="247.3" y2="406.35" stroke="#111" stroke-width="1"/>
<line x1="245.1" y1="410.51" x2="247.3" y2="410.51" stroke="#111" stroke-width="1"/>
<line x1="263.8" y1="397.07" x2="263.8" y2="408.15" stroke="#111" stroke-width="1"/>
<line x1="262.7" y1="397.07" x2="264.9" y2="397.07" stroke="#111" stroke-width="1"/>
<line x1="262.7" y1="408.15" x2="264.9" y2="408.15" stroke="#111" stroke-width="1"/>
<line x1="282" y1="384.74" x2="282" y2="399.98" stroke="#111" stroke-width="1"/>
<line x1="280.9" y1="384.74" x2="283.1" y2="384.74" stroke="#111" stroke-width="1"/>
<line x1="280.9" y1="399.98" x2="283.1" y2="399.98" stroke="#111" stroke-width="1"/>
<rect x="192" y="413.83" width="3.6" height="3.6" fill="#55a8dc"/>
<path d="M209.95 403.6V405.6M209.05 404.1L210.85 405.1M209.05 405.1L210.85 404.1M212.85 403.6V405.6M211.95 404.1L213.75 405.1M211.95 405.1L213.75 404.1" stroke="#000" stroke-width="0.65" fill="none"/>
<path d="M227.35 399.3V401.3M226.45 399.8L228.25 400.8M226.45 400.8L228.25 399.8M230.25 399.3V401.3M229.35 399.8L231.15 400.8M229.35 400.8L231.15 399.8" stroke="#000" stroke-width="0.65" fill="none"/>
<path d="M243.3 402V404M242.4 402.5L244.2 403.5M242.4 403.5L244.2 402.5M246.2 402V404M245.3 402.5L247.1 403.5M245.3 403.5L247.1 402.5M249.1 402V404M248.2 402.5L250 403.5M248.2 403.5L250 402.5" stroke="#000" stroke-width="0.65" fill="none"/>
<path d="M260.9 392.4V394.4M260 392.9L261.8 393.9M260 393.9L261.8 392.9M263.8 392.4V394.4M262.9 392.9L264.7 393.9M262.9 393.9L264.7 392.9M266.7 392.4V394.4M265.8 392.9L267.6 393.9M265.8 393.9L267.6 392.9" stroke="#000" stroke-width="0.65" fill="none"/>
<path d="M279.1 380.8V382.8M278.2 381.3L280 382.3M278.2 382.3L280 381.3M282 380.8V382.8M281.1 381.3L282.9 382.3M281.1 382.3L282.9 381.3M284.9 380.8V382.8M284 381.3L285.8 382.3M284 382.3L285.8 381.3" stroke="#000" stroke-width="0.65" fill="none"/>
<rect x="296" y="382.8" width="4" height="3.6" fill="#55a8dc"/>
<rect x="296" y="392.7" width="4" height="3.6" fill="#c0392e"/>
<text x="302" y="386.53" font-size="5.5">Jeko-1 + <tspan font-style="italic">MALT1</tspan> shRNA #2</text>
<text x="302" y="396.43" font-size="5.5">Jeko-1 + control shRNA</text>
<text x="98.9" y="455.23" font-size="5.8" text-anchor="middle">Mino</text>
<path d="M76.6 462.2V459.2H121.2V462.2" fill="none" stroke="#000" stroke-width="1"/>
<text x="87.75" y="469.23" font-size="5.5" text-anchor="middle">-</text>
<text x="110.05" y="469.23" font-size="5.5" text-anchor="middle">+</text>
<rect x="76.6" y="471.6" width="44.6" height="12.2" fill="#f2f2f2" stroke="#111" stroke-width="1.4"/>
<rect x="78" y="476.09" width="20.7" height="3.42" rx="1.37" fill="#000" fill-opacity="0.78" filter="url(#b2)"/>
<rect x="99.1" y="474.85" width="20.7" height="5.5" rx="2.2" fill="#000" fill-opacity="1" filter="url(#b2)"/>
<rect x="76.6" y="486.8" width="44.6" height="12" fill="#f2f2f2" stroke="#111" stroke-width="1.4"/>
<rect x="78" y="490.28" width="20.7" height="5.24" rx="2.1" fill="#000" fill-opacity="1" filter="url(#b2)"/>
<rect x="99.1" y="491.03" width="20.7" height="3.94" rx="1.58" fill="#000" fill-opacity="0.81" filter="url(#b2)"/>
<rect x="76.6" y="501.8" width="44.6" height="12.5" fill="#f2f2f2" stroke="#111" stroke-width="1.4"/>
<rect x="78" y="508.49" width="20.7" height="3.42" rx="1.37" fill="#000" fill-opacity="1" filter="url(#b2)"/>
<rect x="99.1" y="503.75" width="20.7" height="5.5" rx="2.2" fill="#000" fill-opacity="1" filter="url(#b2)"/>
<rect x="76.6" y="517.8" width="44.6" height="12.2" fill="#f2f2f2" stroke="#111" stroke-width="1.4"/>
<rect x="78" y="519.24" width="20.7" height="4.72" rx="1.89" fill="#000" fill-opacity="1" filter="url(#b2)"/>
<rect x="78" y="523.3" width="20.7" height="4.2" rx="1.68" fill="#000" fill-opacity="1" filter="url(#b2)"/>
<rect x="99.1" y="519.5" width="20.7" height="4.2" rx="1.68" fill="#000" fill-opacity="1" filter="url(#b2)"/>
<rect x="76.6" y="533" width="44.6" height="12" fill="#f2f2f2" stroke="#111" stroke-width="1.4"/>
<rect x="78" y="537.88" width="20.7" height="2.25" rx="0.9" fill="#000" fill-opacity="0.13" filter="url(#b2)"/>
<rect x="99.1" y="534.89" width="20.7" height="8.62" rx="3.45" fill="#000" fill-opacity="1" filter="url(#b2)"/>
<rect x="76.6" y="548" width="44.6" height="12.5" fill="#f2f2f2" stroke="#111" stroke-width="1.4"/>
<rect x="78" y="550.73" width="20.7" height="6.54" rx="2.62" fill="#000" fill-opacity="1" filter="url(#b2)"/>
<rect x="99.1" y="551.76" width="20.7" height="3.68" rx="1.47" fill="#000" fill-opacity="0.67" filter="url(#b2)"/>
<rect x="76.6" y="564" width="44.6" height="12.2" fill="#f2f2f2" stroke="#111" stroke-width="1.4"/>
<rect x="78" y="567.84" width="20.7" height="4.72" rx="1.89" fill="#000" fill-opacity="0.95" filter="url(#b2)"/>
<rect x="99.1" y="567.84" width="20.7" height="4.72" rx="1.89" fill="#000" fill-opacity="0.95" filter="url(#b2)"/>
<text x="148.65" y="455.23" font-size="5.8" text-anchor="middle">SP53</text>
<path d="M126.5 462.2V459.2H170.8V462.2" fill="none" stroke="#000" stroke-width="1"/>
<text x="137.57" y="469.23" font-size="5.5" text-anchor="middle">-</text>
<text x="159.73" y="469.23" font-size="5.5" text-anchor="middle">+</text>
<rect x="126.5" y="471.6" width="44.3" height="12.2" fill="#f2f2f2" stroke="#111" stroke-width="1.4"/>
<rect x="127.9" y="475.04" width="20.55" height="4.72" rx="1.89" fill="#000" fill-opacity="1" filter="url(#b2)"/>
<rect x="148.85" y="475.04" width="20.55" height="4.72" rx="1.89" fill="#000" fill-opacity="1" filter="url(#b2)"/>
<rect x="126.5" y="486.8" width="44.3" height="12" fill="#f2f2f2" stroke="#111" stroke-width="1.4"/>
<rect x="127.9" y="489.65" width="20.55" height="5.5" rx="2.2" fill="#000" fill-opacity="1" filter="url(#b2)"/>
<rect x="148.85" y="491.16" width="20.55" height="3.68" rx="1.47" fill="#000" fill-opacity="0.5" filter="url(#b2)"/>
<rect x="126.5" y="501.8" width="44.3" height="12.5" fill="#f2f2f2" stroke="#111" stroke-width="1.4"/>
<rect x="127.9" y="505.24" width="20.55" height="4.72" rx="1.89" fill="#000" fill-opacity="1" filter="url(#b2)"/>
<rect x="127.9" y="510.41" width="20.55" height="2.38" rx="0.95" fill="#000" fill-opacity="0.34" filter="url(#b2)"/>
<rect x="148.85" y="504.45" width="20.55" height="5.5" rx="2.2" fill="#000" fill-opacity="1" filter="url(#b2)"/>
<rect x="126.5" y="517.8" width="44.3" height="12.2" fill="#f2f2f2" stroke="#111" stroke-width="1.4"/>
<rect x="127.9" y="519.84" width="20.55" height="4.72" rx="1.89" fill="#000" fill-opacity="1" filter="url(#b2)"/>
<rect x="127.9" y="523.96" width="20.55" height="3.68" rx="1.47" fill="#000" fill-opacity="0.95" filter="url(#b2)"/>
<rect x="148.85" y="520.04" width="20.55" height="4.72" rx="1.89" fill="#000" fill-opacity="1" filter="url(#b2)"/>
<rect x="126.5" y="533" width="44.3" height="12" fill="#f2f2f2" stroke="#111" stroke-width="1.4"/>
<rect x="127.9" y="537.69" width="20.55" height="3.42" rx="1.37" fill="#000" fill-opacity="0.78" filter="url(#b2)"/>
<rect x="148.85" y="536.32" width="20.55" height="5.76" rx="2.3" fill="#000" fill-opacity="1" filter="url(#b2)"/>
<rect x="126.5" y="548" width="44.3" height="12.5" fill="url(#gsp)" stroke="#111" stroke-width="1.4"/>
<rect x="127.9" y="550.85" width="20.55" height="5.5" rx="2.2" fill="#000" fill-opacity="1" filter="url(#b2)"/>
<rect x="148.85" y="552.5" width="20.55" height="4.2" rx="1.68" fill="#000" fill-opacity="0.78" filter="url(#b2)"/>
<rect x="126.5" y="564" width="44.3" height="12.2" fill="#f2f2f2" stroke="#111" stroke-width="1.4"/>
<rect x="127.9" y="568.23" width="20.55" height="3.94" rx="1.58" fill="#000" fill-opacity="0.84" filter="url(#b2)"/>
<rect x="148.85" y="568.23" width="20.55" height="3.94" rx="1.58" fill="#000" fill-opacity="0.84" filter="url(#b2)"/>
<text x="198.65" y="455.23" font-size="5.8" text-anchor="middle">Maver-1</text>
<path d="M176.5 462.2V459.2H220.8V462.2" fill="none" stroke="#000" stroke-width="1"/>
<text x="187.57" y="469.23" font-size="5.5" text-anchor="middle">-</text>
<text x="209.73" y="469.23" font-size="5.5" text-anchor="middle">+</text>
<rect x="176.5" y="471.6" width="44.3" height="12.2" fill="#f2f2f2" stroke="#111" stroke-width="1.4"/>
<rect x="177.9" y="474.45" width="20.55" height="5.5" rx="2.2" fill="#000" fill-opacity="1" filter="url(#b2)"/>
<rect x="198.85" y="474.45" width="20.55" height="5.5" rx="2.2" fill="#000" fill-opacity="1" filter="url(#b2)"/>
<rect x="176.5" y="486.8" width="44.3" height="12" fill="#f2f2f2" stroke="#111" stroke-width="1.4"/>
<rect x="176.5" y="501.8" width="44.3" height="12.5" fill="#f2f2f2" stroke="#111" stroke-width="1.4"/>
<rect x="177.9" y="506.74" width="20.55" height="2.12" rx="0.85" fill="#000" fill-opacity="0.56" filter="url(#b2)"/>
<rect x="198.85" y="505.49" width="20.55" height="3.42" rx="1.37" fill="#000" fill-opacity="0.95" filter="url(#b2)"/>
<rect x="176.5" y="517.8" width="44.3" height="12.2" fill="#f2f2f2" stroke="#111" stroke-width="1.4"/>
<rect x="177.9" y="520.3" width="20.55" height="4.2" rx="1.68" fill="#000" fill-opacity="0.95" filter="url(#b2)"/>
<rect x="198.85" y="520.3" width="20.55" height="4.2" rx="1.68" fill="#000" fill-opacity="0.95" filter="url(#b2)"/>
<rect x="176.5" y="533" width="44.3" height="12" fill="#f2f2f2" stroke="#111" stroke-width="1.4"/>
<rect x="177.9" y="536.85" width="20.55" height="5.5" rx="2.2" fill="#000" fill-opacity="1" filter="url(#b2)"/>
<rect x="198.85" y="536.85" width="20.55" height="5.5" rx="2.2" fill="#000" fill-opacity="1" filter="url(#b2)"/>
<rect x="176.5" y="548" width="44.3" height="12.5" fill="#f2f2f2" stroke="#111" stroke-width="1.4"/>
<rect x="176.5" y="564" width="44.3" height="12.2" fill="#f2f2f2" stroke="#111" stroke-width="1.4"/>
<rect x="177.9" y="568.17" width="20.55" height="4.46" rx="1.78" fill="#000" fill-opacity="0.95" filter="url(#b2)"/>
<rect x="198.85" y="568.17" width="20.55" height="4.46" rx="1.78" fill="#000" fill-opacity="0.95" filter="url(#b2)"/>
<text x="248.45" y="455.23" font-size="5.8" text-anchor="middle">Z-138</text>
<path d="M226 462.2V459.2H270.9V462.2" fill="none" stroke="#000" stroke-width="1"/>
<text x="237.22" y="469.23" font-size="5.5" text-anchor="middle">-</text>
<text x="259.67" y="469.23" font-size="5.5" text-anchor="middle">+</text>
<rect x="226" y="471.6" width="44.9" height="12.2" fill="#f2f2f2" stroke="#111" stroke-width="1.4"/>
<rect x="227.4" y="474.95" width="20.85" height="2.9" rx="1.16" fill="#000" fill-opacity="1" filter="url(#b2)"/>
<rect x="248.65" y="475.55" width="20.85" height="2.9" rx="1.16" fill="#000" fill-opacity="1" filter="url(#b2)"/>
<rect x="226" y="486.8" width="44.9" height="12" fill="#f2f2f2" stroke="#111" stroke-width="1.4"/>
<rect x="226" y="501.8" width="44.9" height="12.5" fill="#f2f2f2" stroke="#111" stroke-width="1.4"/>
<rect x="227.4" y="505.81" width="20.85" height="2.77" rx="1.11" fill="#000" fill-opacity="0.95" filter="url(#b2)"/>
<rect x="248.65" y="505.81" width="20.85" height="2.77" rx="1.11" fill="#000" fill-opacity="0.95" filter="url(#b2)"/>
<rect x="226" y="517.8" width="44.9" height="12.2" fill="#f2f2f2" stroke="#111" stroke-width="1.4"/>
<rect x="227.4" y="519.84" width="20.85" height="4.72" rx="1.89" fill="#000" fill-opacity="1" filter="url(#b2)"/>
<rect x="248.65" y="520.24" width="20.85" height="4.72" rx="1.89" fill="#000" fill-opacity="1" filter="url(#b2)"/>
<rect x="226" y="533" width="44.9" height="12" fill="#f2f2f2" stroke="#111" stroke-width="1.4"/>
<rect x="227.4" y="536.26" width="20.85" height="6.28" rx="2.51" fill="#000" fill-opacity="1" filter="url(#b2)"/>
<rect x="248.65" y="536.26" width="20.85" height="6.28" rx="2.51" fill="#000" fill-opacity="1" filter="url(#b2)"/>
<rect x="226" y="548" width="44.9" height="12.5" fill="#f2f2f2" stroke="#111" stroke-width="1.4"/>
<rect x="226" y="564" width="44.9" height="12.2" fill="#f2f2f2" stroke="#111" stroke-width="1.4"/>
<rect x="227.4" y="567.44" width="20.85" height="4.72" rx="1.89" fill="#000" fill-opacity="1" filter="url(#b2)"/>
<rect x="248.65" y="567.44" width="20.85" height="4.72" rx="1.89" fill="#000" fill-opacity="1" filter="url(#b2)"/>
<text x="71.3" y="469.39" font-size="5.4" text-anchor="end">z-VRPR-fmk [50 µM]:</text>
<text x="71.3" y="479.49" font-size="5.4" text-anchor="end">Full-length CYLD</text>
<text x="71.3" y="494.89" font-size="5.4" text-anchor="end">Cleaved CYLD</text>
<text x="71.3" y="507.49" font-size="5.4" text-anchor="end">Full-length RelB</text>
<text x="71.3" y="513.89" font-size="5.4" text-anchor="end">Cleaved RelB</text>
<text x="71.3" y="523.89" font-size="5.4" text-anchor="end">Full-length A20</text>
<text x="71.3" y="530.59" font-size="5.4" text-anchor="end">Cleaved A20</text>
<text x="71.3" y="540.89" font-size="5.4" text-anchor="end">Full-length BCL10</text>
<text x="71.3" y="556.39" font-size="5.4" text-anchor="end">Cleaved BCL10</text>
<text x="71.3" y="571.89" font-size="5.4" text-anchor="end">Tubulin</text>
<line x1="324.9" y1="449.6" x2="324.9" y2="524.1" stroke="#000" stroke-width="1.3"/>
<line x1="324.3" y1="523.5" x2="429.5" y2="523.5" stroke="#000" stroke-width="1.3"/>
<line x1="321.8" y1="523.5" x2="324.9" y2="523.5" stroke="#000" stroke-width="1"/>
<text x="318.8" y="525.36" font-size="5.3" text-anchor="end">0</text>
<line x1="321.8" y1="511.8" x2="324.9" y2="511.8" stroke="#000" stroke-width="1"/>
<text x="318.8" y="513.65" font-size="5.3" text-anchor="end">20</text>
<line x1="321.8" y1="500.1" x2="324.9" y2="500.1" stroke="#000" stroke-width="1"/>
<text x="318.8" y="501.96" font-size="5.3" text-anchor="end">40</text>
<line x1="321.8" y1="488.4" x2="324.9" y2="488.4" stroke="#000" stroke-width="1"/>
<text x="318.8" y="490.25" font-size="5.3" text-anchor="end">60</text>
<line x1="321.8" y1="476.7" x2="324.9" y2="476.7" stroke="#000" stroke-width="1"/>
<text x="318.8" y="478.56" font-size="5.3" text-anchor="end">80</text>
<line x1="321.8" y1="465" x2="324.9" y2="465" stroke="#000" stroke-width="1"/>
<text x="318.8" y="466.86" font-size="5.3" text-anchor="end">100</text>
<line x1="321.8" y1="453.3" x2="324.9" y2="453.3" stroke="#000" stroke-width="1"/>
<text x="318.8" y="455.16" font-size="5.3" text-anchor="end">120</text>
<line x1="334.8" y1="523.5" x2="334.8" y2="525.3" stroke="#000" stroke-width="1"/>
<text x="334.8" y="531.49" font-size="5.4" text-anchor="middle">0</text>
<line x1="362.3" y1="523.5" x2="362.3" y2="525.3" stroke="#000" stroke-width="1"/>
<text x="362.3" y="531.49" font-size="5.4" text-anchor="middle">12.5</text>
<line x1="389.3" y1="523.5" x2="389.3" y2="525.3" stroke="#000" stroke-width="1"/>
<text x="389.3" y="531.49" font-size="5.4" text-anchor="middle">25</text>
<line x1="417" y1="523.5" x2="417" y2="525.3" stroke="#000" stroke-width="1"/>
<text x="417" y="531.49" font-size="5.4" text-anchor="middle">50</text>
<text x="377" y="542.52" font-size="7.2" text-anchor="middle">z-VRPR-fmk [µM]</text>
<text x="302.8" y="489.95" font-size="7" text-anchor="middle" transform="rotate(-90 302.8 487.5)">Cell viability (% of control)</text>
<polyline points="334.8,465 362.3,510.63 389.3,513.55 417,515.02" fill="none" stroke="#e8b898" stroke-width="1.5" stroke-linejoin="round"/>
<polyline points="334.8,465 362.3,498.93 389.3,498.05 417,500.69" fill="none" stroke="#d41c40" stroke-width="1.5" stroke-linejoin="round"/>
<polyline points="334.8,465 362.3,477.87 389.3,488.99 417,494.83" fill="none" stroke="#b42c88" stroke-width="1.5" stroke-linejoin="round"/>
<polyline points="334.8,465 362.3,484.31 389.3,487.81 417,491.32" fill="none" stroke="#d23c4c" stroke-width="1.5" stroke-linejoin="round"/>
<polyline points="334.8,465 362.3,477.29 389.3,485.48 417,489.57" fill="none" stroke="#c0223a" stroke-width="1.5" stroke-linejoin="round"/>
<polyline points="334.8,465 362.3,465 389.3,467.93 417,466.17" fill="none" stroke="#8a7cae" stroke-width="1.5" stroke-linejoin="round"/>
<polyline points="334.8,465 362.3,464.42 389.3,467.93 417,464.42" fill="none" stroke="#45aacb" stroke-width="1.5" stroke-linejoin="round"/>
<polyline points="334.8,465 362.3,462.66 389.3,467.93 417,463.25" fill="none" stroke="#2e6c9c" stroke-width="1.5" stroke-linejoin="round"/>
<polyline points="334.8,465 362.3,466.17 389.3,467.93 417,465" fill="none" stroke="#3d1845" stroke-width="1.5" stroke-linejoin="round"/>
<polyline points="334.8,465 362.3,466.17 389.3,467.93 417,474.36" fill="none" stroke="#1c1c44" stroke-width="1.5" stroke-linejoin="round"/>
<rect x="333.4" y="463.6" width="2.8" height="2.8" fill="#e8b898"/>
<rect x="360.9" y="509.23" width="2.8" height="2.8" fill="#e8b898"/>
<rect x="387.9" y="512.15" width="2.8" height="2.8" fill="#e8b898"/>
<rect x="415.6" y="513.62" width="2.8" height="2.8" fill="#e8b898"/>
<circle cx="334.8" cy="465" r="1.4" fill="#d41c40"/>
<circle cx="362.3" cy="498.93" r="1.4" fill="#d41c40"/>
<line x1="362.3" y1="497.18" x2="362.3" y2="500.69" stroke="#111" stroke-width="0.9"/>
<line x1="361.3" y1="497.18" x2="363.3" y2="497.18" stroke="#111" stroke-width="0.9"/>
<line x1="361.3" y1="500.69" x2="363.3" y2="500.69" stroke="#111" stroke-width="0.9"/>
<circle cx="389.3" cy="498.05" r="1.4" fill="#d41c40"/>
<circle cx="417" cy="500.69" r="1.4" fill="#d41c40"/>
<line x1="417" y1="499.51" x2="417" y2="501.86" stroke="#111" stroke-width="0.9"/>
<line x1="416" y1="499.51" x2="418" y2="499.51" stroke="#111" stroke-width="0.9"/>
<line x1="416" y1="501.86" x2="418" y2="501.86" stroke="#111" stroke-width="0.9"/>
<path d="M334.8 463.18L336.62 466.4L332.98 466.4Z" fill="#b42c88"/>
<path d="M362.3 476.05L364.12 479.27L360.48 479.27Z" fill="#b42c88"/>
<path d="M389.3 487.17L391.12 490.38L387.48 490.38Z" fill="#b42c88"/>
<path d="M417 493.01L418.82 496.23L415.18 496.23Z" fill="#b42c88"/>
<line x1="417" y1="493.08" x2="417" y2="496.59" stroke="#111" stroke-width="0.9"/>
<line x1="416" y1="493.08" x2="418" y2="493.08" stroke="#111" stroke-width="0.9"/>
<line x1="416" y1="496.59" x2="418" y2="496.59" stroke="#111" stroke-width="0.9"/>
<line x1="389.3" y1="485.48" x2="389.3" y2="490.15" stroke="#111" stroke-width="0.9"/>
<line x1="388.3" y1="485.48" x2="390.3" y2="485.48" stroke="#111" stroke-width="0.9"/>
<line x1="388.3" y1="490.15" x2="390.3" y2="490.15" stroke="#111" stroke-width="0.9"/>
<path d="M334.8 463.18L336.62 465L334.8 466.82L332.98 465Z" fill="#c0223a"/>
<path d="M362.3 475.47L364.12 477.29L362.3 479.11L360.48 477.29Z" fill="#c0223a"/>
<line x1="362.3" y1="474.94" x2="362.3" y2="479.62" stroke="#111" stroke-width="0.9"/>
<line x1="361.3" y1="474.94" x2="363.3" y2="474.94" stroke="#111" stroke-width="0.9"/>
<line x1="361.3" y1="479.62" x2="363.3" y2="479.62" stroke="#111" stroke-width="0.9"/>
<path d="M389.3 483.66L391.12 485.48L389.3 487.3L387.48 485.48Z" fill="#c0223a"/>
<line x1="389.3" y1="482.55" x2="389.3" y2="488.4" stroke="#111" stroke-width="0.9"/>
<line x1="388.3" y1="482.55" x2="390.3" y2="482.55" stroke="#111" stroke-width="0.9"/>
<line x1="388.3" y1="488.4" x2="390.3" y2="488.4" stroke="#111" stroke-width="0.9"/>
<path d="M417 487.75L418.82 489.57L417 491.39L415.18 489.57Z" fill="#c0223a"/>
<line x1="417" y1="486.64" x2="417" y2="492.5" stroke="#111" stroke-width="0.9"/>
<line x1="416" y1="486.64" x2="418" y2="486.64" stroke="#111" stroke-width="0.9"/>
<line x1="416" y1="492.5" x2="418" y2="492.5" stroke="#111" stroke-width="0.9"/>
<rect x="333.4" y="463.6" width="2.8" height="2.8" fill="#8a7cae"/>
<rect x="360.9" y="463.6" width="2.8" height="2.8" fill="#8a7cae"/>
<rect x="387.9" y="466.53" width="2.8" height="2.8" fill="#8a7cae"/>
<rect x="415.6" y="464.77" width="2.8" height="2.8" fill="#8a7cae"/>
<circle cx="334.8" cy="465" r="1.4" fill="#45aacb"/>
<circle cx="362.3" cy="464.42" r="1.4" fill="#45aacb"/>
<circle cx="389.3" cy="467.93" r="1.4" fill="#45aacb"/>
<circle cx="417" cy="464.42" r="1.4" fill="#45aacb"/>
<rect x="333.4" y="463.6" width="2.8" height="2.8" fill="#2e6c9c"/>
<rect x="360.9" y="461.26" width="2.8" height="2.8" fill="#2e6c9c"/>
<line x1="362.3" y1="460.32" x2="362.3" y2="465" stroke="#111" stroke-width="0.9"/>
<line x1="361.3" y1="460.32" x2="363.3" y2="460.32" stroke="#111" stroke-width="0.9"/>
<line x1="361.3" y1="465" x2="363.3" y2="465" stroke="#111" stroke-width="0.9"/>
<rect x="387.9" y="466.53" width="2.8" height="2.8" fill="#2e6c9c"/>
<rect x="415.6" y="461.85" width="2.8" height="2.8" fill="#2e6c9c"/>
<line x1="417" y1="459.74" x2="417" y2="466.75" stroke="#111" stroke-width="0.9"/>
<line x1="416" y1="459.74" x2="418" y2="459.74" stroke="#111" stroke-width="0.9"/>
<line x1="416" y1="466.75" x2="418" y2="466.75" stroke="#111" stroke-width="0.9"/>
<path d="M334.8 463.18L336.62 465L334.8 466.82L332.98 465Z" fill="#3d1845"/>
<path d="M362.3 464.35L364.12 466.17L362.3 467.99L360.48 466.17Z" fill="#3d1845"/>
<path d="M389.3 466.11L391.12 467.93L389.3 469.75L387.48 467.93Z" fill="#3d1845"/>
<path d="M417 463.18L418.82 465L417 466.82L415.18 465Z" fill="#3d1845"/>
<path d="M334.8 463.18L336.62 466.4L332.98 466.4Z" fill="#1c1c44"/>
<path d="M362.3 464.35L364.12 467.57L360.48 467.57Z" fill="#1c1c44"/>
<path d="M389.3 466.11L391.12 469.32L387.48 469.32Z" fill="#1c1c44"/>
<line x1="389.3" y1="465.58" x2="389.3" y2="470.26" stroke="#111" stroke-width="0.9"/>
<line x1="388.3" y1="465.58" x2="390.3" y2="465.58" stroke="#111" stroke-width="0.9"/>
<line x1="388.3" y1="470.26" x2="390.3" y2="470.26" stroke="#111" stroke-width="0.9"/>
<path d="M417 472.54L418.82 475.76L415.18 475.76Z" fill="#1c1c44"/>
<line x1="417" y1="473.77" x2="417" y2="474.94" stroke="#111" stroke-width="0.9"/>
<line x1="416" y1="473.77" x2="418" y2="473.77" stroke="#111" stroke-width="0.9"/>
<line x1="416" y1="474.94" x2="418" y2="474.94" stroke="#111" stroke-width="0.9"/>
<path d="M334.8 465L362.3 460.8L389.3 468L417 461.5L417 468.5L389.3 468L362.3 466.5Z" fill="#4a5fa8" fill-opacity="0.55"/>
<rect x="301.5" y="546.8" width="153.1" height="69" fill="#fff" stroke="#111" stroke-width="1"/>
<text x="320" y="555.65" font-size="5" text-anchor="middle">Cell</text>
<text x="320" y="561.95" font-size="5" text-anchor="middle">line</text>
<text x="353.8" y="555.65" font-size="5" text-anchor="middle">MALT1</text>
<text x="353.8" y="561.95" font-size="5" text-anchor="middle">activity</text>
<text x="397" y="555.65" font-size="5" text-anchor="middle">Cell</text>
<text x="397" y="561.95" font-size="5" text-anchor="middle">line</text>
<text x="437" y="555.65" font-size="5" text-anchor="middle">MALT1</text>
<text x="437" y="561.95" font-size="5" text-anchor="middle">activity</text>
<line x1="304" y1="566.4" x2="336" y2="566.4" stroke="#000" stroke-width="1.1"/>
<line x1="338.5" y1="566.4" x2="370" y2="566.4" stroke="#000" stroke-width="1.1"/>
<line x1="372.5" y1="566.4" x2="419.5" y2="566.4" stroke="#000" stroke-width="1.1"/>
<line x1="421.5" y1="566.4" x2="452.3" y2="566.4" stroke="#000" stroke-width="1.1"/>
<line x1="305" y1="573" x2="313" y2="573" stroke="#c0223a" stroke-width="1.5"/>
<path d="M309 570.73L311.27 573L309 575.27L306.73 573Z" fill="#c0223a"/>
<text x="314.8" y="574.91" font-size="5.45">Jeko-1</text>
<text x="353.8" y="574.91" font-size="5.45" text-anchor="middle">Activated</text>
<line x1="305" y1="581.8" x2="313" y2="581.8" stroke="#d41c40" stroke-width="1.5"/>
<circle cx="309" cy="581.8" r="1.75" fill="#d41c40"/>
<text x="314.8" y="583.71" font-size="5.45">Rec-1</text>
<text x="353.8" y="583.71" font-size="5.45" text-anchor="middle">Activated</text>
<line x1="305" y1="590.7" x2="313" y2="590.7" stroke="#b42c88" stroke-width="1.5"/>
<path d="M309 588.43L311.27 592.45L306.73 592.45Z" fill="#b42c88"/>
<text x="314.8" y="592.61" font-size="5.45">SP53</text>
<text x="353.8" y="592.61" font-size="5.45" text-anchor="middle">Activated</text>
<line x1="305" y1="599.5" x2="313" y2="599.5" stroke="#d23c4c" stroke-width="1.5"/>
<text x="314.8" y="601.41" font-size="5.45">SP49</text>
<text x="353.8" y="601.41" font-size="5.45" text-anchor="middle">Activated</text>
<line x1="305" y1="608.5" x2="313" y2="608.5" stroke="#e8b898" stroke-width="1.5"/>
<rect x="307.25" y="606.75" width="3.5" height="3.5" fill="#e8b898"/>
<text x="314.8" y="610.41" font-size="5.45">Mino-1</text>
<text x="353.8" y="610.41" font-size="5.45" text-anchor="middle">Activated</text>
<line x1="377.5" y1="573" x2="385.5" y2="573" stroke="#2e6c9c" stroke-width="1.5"/>
<rect x="379.75" y="571.25" width="3.5" height="3.5" fill="#2e6c9c"/>
<text x="387.8" y="574.91" font-size="5.45">Maver-1</text>
<text x="437" y="574.91" font-size="5.45" text-anchor="middle">Inactive</text>
<line x1="377.5" y1="581.8" x2="385.5" y2="581.8" stroke="#1c1c44" stroke-width="1.5"/>
<path d="M381.5 579.52L383.77 583.55L379.23 583.55Z" fill="#1c1c44"/>
<text x="387.8" y="583.71" font-size="5.45">Z-138</text>
<text x="437" y="583.71" font-size="5.45" text-anchor="middle">Inactive</text>
<line x1="377.5" y1="590.7" x2="385.5" y2="590.7" stroke="#45aacb" stroke-width="1.5"/>
<circle cx="381.5" cy="590.7" r="1.75" fill="#45aacb"/>
<text x="387.8" y="592.61" font-size="5.45">Granta-519</text>
<text x="437" y="592.61" font-size="5.45" text-anchor="middle">Inactive</text>
<line x1="377.5" y1="599.5" x2="385.5" y2="599.5" stroke="#3d1845" stroke-width="1.5"/>
<path d="M381.5 597.23L383.77 599.5L381.5 601.77L379.23 599.5Z" fill="#3d1845"/>
<text x="387.8" y="601.41" font-size="5.45">JVM-2</text>
<text x="437" y="601.41" font-size="5.45" text-anchor="middle">Inactive</text>
<line x1="377.5" y1="608.5" x2="385.5" y2="608.5" stroke="#8a7cae" stroke-width="1.5"/>
<rect x="379.75" y="606.75" width="3.5" height="3.5" fill="#8a7cae"/>
<text x="387.8" y="610.41" font-size="5.45">JVM-13</text>
<text x="437" y="610.41" font-size="5.45" text-anchor="middle">Inactive</text>
<rect x="30.8" y="635.2" width="41.9" height="27.2" fill="#fff" stroke="#111" stroke-width="1.1"/>
<rect x="30.8" y="663.9" width="41.9" height="27.2" fill="#fff" stroke="#111" stroke-width="1.1"/>
<rect x="76.5" y="635.2" width="42.7" height="27.2" fill="#fff" stroke="#111" stroke-width="1.1"/>
<rect x="76.5" y="663.9" width="42.7" height="27.2" fill="#fff" stroke="#111" stroke-width="1.1"/>
<rect x="122.3" y="635.2" width="42.6" height="27.2" fill="#fff" stroke="#111" stroke-width="1.1"/>
<rect x="122.3" y="663.9" width="42.6" height="27.2" fill="#fff" stroke="#111" stroke-width="1.1"/>
<rect x="169" y="635.2" width="42.1" height="27.2" fill="#fff" stroke="#111" stroke-width="1.1"/>
<rect x="169" y="663.9" width="42.1" height="27.2" fill="#fff" stroke="#111" stroke-width="1.1"/>
<text x="51.75" y="631.16" font-size="5.6" text-anchor="middle">d0</text>
<text x="97.85" y="631.16" font-size="5.6" text-anchor="middle">d2</text>
<text x="143.6" y="631.16" font-size="5.6" text-anchor="middle">d4</text>
<text x="190.05" y="631.16" font-size="5.6" text-anchor="middle">d6</text>
<text x="213.6" y="650.76" font-size="5.6">Mino</text>
<text x="213.6" y="678.96" font-size="5.6">Z-138</text>
<path d="M67.1 661.45 L67.18 661.4 L67.25 661.32 L67.33 661.23 L67.41 661.1 L67.49 660.94 L67.56 660.73 L67.64 660.47 L67.72 660.15 L67.8 659.75 L67.87 659.28 L67.95 658.71 L68.03 658.04 L68.11 657.27 L68.18 656.38 L68.26 655.38 L68.34 654.26 L68.41 653.04 L68.49 651.71 L68.57 650.3 L68.65 648.83 L68.72 647.31 L68.8 645.79 L68.88 644.29 L68.96 642.84 L69.03 641.49 L69.11 640.28 L69.19 639.22 L69.27 638.37 L69.34 637.73 L69.42 637.34 L69.5 637.2 L69.57 637.34 L69.65 637.77 L69.73 638.47 L69.81 639.43 L69.88 640.61 L69.96 641.96 L70.04 643.45 L70.12 645.03 L70.19 646.66 L70.27 648.29 L70.35 649.89 L70.43 651.42 L70.5 652.85 L70.58 654.18 L70.66 655.38 L70.73 656.45 L70.81 657.39 L70.89 658.2 L70.97 658.88 L71.04 659.46 L71.12 659.93 L71.2 660.32 L71.28 660.62 L71.35 660.87 L71.43 661.06 L71.51 661.2 L71.59 661.31 L71.66 661.39 L71.74 661.45 Z" fill="#c7c7ea" stroke="none"/>
<path d="M67.1 661.45 L67.18 661.4 L67.25 661.32 L67.33 661.23 L67.41 661.1 L67.49 660.94 L67.56 660.73 L67.64 660.47 L67.72 660.15 L67.8 659.75 L67.87 659.28 L67.95 658.71 L68.03 658.04 L68.11 657.27 L68.18 656.38 L68.26 655.38 L68.34 654.26 L68.41 653.04 L68.49 651.71 L68.57 650.3 L68.65 648.83 L68.72 647.31 L68.8 645.79 L68.88 644.29 L68.96 642.84 L69.03 641.49 L69.11 640.28 L69.19 639.22 L69.27 638.37 L69.34 637.73 L69.42 637.34 L69.5 637.2 L69.57 637.34 L69.65 637.77 L69.73 638.47 L69.81 639.43 L69.88 640.61 L69.96 641.96 L70.04 643.45 L70.12 645.03 L70.19 646.66 L70.27 648.29 L70.35 649.89 L70.43 651.42 L70.5 652.85 L70.58 654.18 L70.66 655.38 L70.73 656.45 L70.81 657.39 L70.89 658.2 L70.97 658.88 L71.04 659.46 L71.12 659.93 L71.2 660.32 L71.28 660.62 L71.35 660.87 L71.43 661.06 L71.51 661.2 L71.59 661.31 L71.66 661.39 L71.74 661.45" fill="none" stroke="#d2404a" stroke-width="1.2" stroke-linejoin="round"/>
<path d="M67.3 661.45 L67.37 661.4 L67.45 661.33 L67.52 661.24 L67.6 661.12 L67.67 660.97 L67.75 660.77 L67.82 660.54 L67.9 660.24 L67.97 659.88 L68.05 659.45 L68.12 658.94 L68.2 658.33 L68.27 657.63 L68.35 656.83 L68.42 655.91 L68.49 654.89 L68.57 653.77 L68.64 652.54 L68.72 651.23 L68.79 649.85 L68.87 648.41 L68.94 646.95 L69.02 645.48 L69.09 644.03 L69.17 642.65 L69.24 641.36 L69.32 640.2 L69.39 639.19 L69.47 638.37 L69.54 637.75 L69.61 637.36 L69.69 637.2 L69.76 637.32 L69.84 637.75 L69.91 638.48 L69.99 639.48 L70.06 640.72 L70.14 642.14 L70.21 643.71 L70.29 645.36 L70.36 647.06 L70.44 648.75 L70.51 650.39 L70.59 651.95 L70.66 653.4 L70.73 654.73 L70.81 655.91 L70.88 656.96 L70.96 657.86 L71.03 658.62 L71.11 659.26 L71.18 659.79 L71.26 660.22 L71.33 660.56 L71.41 660.82 L71.48 661.03 L71.56 661.19 L71.63 661.3 L71.71 661.39 L71.78 661.45" fill="none" stroke="#3b3f9e" stroke-width="1.2" stroke-linejoin="round"/>
<path d="M67.1 690.15 L67.18 690.1 L67.25 690.02 L67.33 689.92 L67.41 689.79 L67.49 689.63 L67.56 689.42 L67.64 689.15 L67.72 688.83 L67.8 688.43 L67.87 687.95 L67.95 687.38 L68.03 686.7 L68.11 685.92 L68.18 685.02 L68.26 684 L68.34 682.87 L68.41 681.63 L68.49 680.29 L68.57 678.86 L68.65 677.37 L68.72 675.84 L68.8 674.29 L68.88 672.77 L68.96 671.31 L69.03 669.95 L69.11 668.71 L69.19 667.65 L69.27 666.78 L69.34 666.14 L69.42 665.74 L69.5 665.6 L69.57 665.74 L69.65 666.18 L69.73 666.89 L69.81 667.86 L69.88 669.05 L69.96 670.42 L70.04 671.93 L70.12 673.53 L70.19 675.18 L70.27 676.83 L70.35 678.44 L70.43 679.99 L70.5 681.45 L70.58 682.79 L70.66 684 L70.73 685.09 L70.81 686.04 L70.89 686.85 L70.97 687.55 L71.04 688.13 L71.12 688.61 L71.2 689 L71.28 689.31 L71.35 689.56 L71.43 689.75 L71.51 689.9 L71.59 690.01 L71.66 690.09 L71.74 690.15 Z" fill="#c7c7ea" stroke="none"/>
<path d="M67.1 690.15 L67.18 690.1 L67.25 690.02 L67.33 689.92 L67.41 689.79 L67.49 689.63 L67.56 689.42 L67.64 689.15 L67.72 688.83 L67.8 688.43 L67.87 687.95 L67.95 687.38 L68.03 686.7 L68.11 685.92 L68.18 685.02 L68.26 684 L68.34 682.87 L68.41 681.63 L68.49 680.29 L68.57 678.86 L68.65 677.37 L68.72 675.84 L68.8 674.29 L68.88 672.77 L68.96 671.31 L69.03 669.95 L69.11 668.71 L69.19 667.65 L69.27 666.78 L69.34 666.14 L69.42 665.74 L69.5 665.6 L69.57 665.74 L69.65 666.18 L69.73 666.89 L69.81 667.86 L69.88 669.05 L69.96 670.42 L70.04 671.93 L70.12 673.53 L70.19 675.18 L70.27 676.83 L70.35 678.44 L70.43 679.99 L70.5 681.45 L70.58 682.79 L70.66 684 L70.73 685.09 L70.81 686.04 L70.89 686.85 L70.97 687.55 L71.04 688.13 L71.12 688.61 L71.2 689 L71.28 689.31 L71.35 689.56 L71.43 689.75 L71.51 689.9 L71.59 690.01 L71.66 690.09 L71.74 690.15" fill="none" stroke="#d2404a" stroke-width="1.2" stroke-linejoin="round"/>
<path d="M67.3 690.15 L67.37 690.1 L67.45 690.03 L67.52 689.93 L67.6 689.81 L67.67 689.66 L67.75 689.46 L67.82 689.22 L67.9 688.93 L67.97 688.56 L68.05 688.13 L68.12 687.6 L68.2 686.99 L68.27 686.28 L68.35 685.47 L68.42 684.54 L68.49 683.51 L68.57 682.37 L68.64 681.13 L68.72 679.81 L68.79 678.41 L68.87 676.95 L68.94 675.47 L69.02 673.98 L69.09 672.52 L69.17 671.12 L69.24 669.81 L69.32 668.63 L69.39 667.61 L69.47 666.78 L69.54 666.16 L69.61 665.76 L69.69 665.6 L69.76 665.72 L69.84 666.16 L69.91 666.9 L69.99 667.91 L70.06 669.16 L70.14 670.6 L70.21 672.19 L70.29 673.86 L70.36 675.58 L70.44 677.29 L70.51 678.95 L70.59 680.53 L70.66 682 L70.73 683.34 L70.81 684.54 L70.88 685.6 L70.96 686.51 L71.03 687.29 L71.11 687.94 L71.18 688.47 L71.26 688.9 L71.33 689.24 L71.41 689.51 L71.48 689.72 L71.56 689.88 L71.63 690 L71.71 690.09 L71.78 690.15" fill="none" stroke="#3b3f9e" stroke-width="1.2" stroke-linejoin="round"/>
<path d="M94.4 661.45 L94.57 661.35 L94.73 661.2 L94.9 660.96 L95.07 660.61 L95.24 660.11 L95.4 659.41 L95.57 658.48 L95.74 657.28 L95.91 655.79 L96.07 653.99 L96.24 651.91 L96.41 649.61 L96.58 647.16 L96.74 644.7 L96.91 642.36 L97.08 640.29 L97.24 638.65 L97.41 637.56 L97.58 637.2 L97.75 637.2 L97.91 637.6 L98.08 638.36 L98.25 639.36 L98.42 640.55 L98.58 641.83 L98.75 643.12 L98.92 644.34 L99.09 645.41 L99.25 646.29 L99.42 646.97 L99.59 647.44 L99.75 647.74 L99.92 647.92 L100.09 648.06 L100.26 648.22 L100.42 648.48 L100.59 648.89 L100.76 649.44 L100.93 650.09 L101.09 650.85 L101.26 651.7 L101.43 652.63 L101.6 653.6 L101.76 654.59 L101.93 655.56 L102.1 656.5 L102.26 657.37 L102.43 658.15 L102.6 658.84 L102.77 659.44 L102.93 659.94 L103.1 660.35 L103.27 660.67 L103.44 660.93 L103.6 661.12 L103.77 661.27 L103.94 661.37 L104.11 661.45 L104.27 661.5 L104.44 661.53" fill="none" stroke="#d2404a" stroke-width="1.2" stroke-linejoin="round"/>
<path d="M94.4 661.45 L94.54 661.37 L94.68 661.26 L94.82 661.09 L94.95 660.86 L95.09 660.55 L95.23 660.12 L95.37 659.57 L95.51 658.86 L95.65 657.97 L95.79 656.89 L95.93 655.6 L96.06 654.1 L96.2 652.41 L96.34 650.55 L96.48 648.57 L96.62 646.52 L96.76 644.49 L96.9 642.56 L97.03 640.8 L97.17 639.32 L97.31 638.19 L97.45 637.47 L97.59 637.2 L97.73 637.28 L97.87 637.54 L98.01 637.97 L98.14 638.57 L98.28 639.32 L98.42 640.21 L98.56 641.22 L98.7 642.32 L98.84 643.51 L98.98 644.74 L99.11 646.01 L99.25 647.29 L99.39 648.57 L99.53 649.82 L99.67 651.03 L99.81 652.18 L99.95 653.28 L100.09 654.3 L100.22 655.24 L100.36 656.1 L100.5 656.89 L100.64 657.59 L100.78 658.21 L100.92 658.76 L101.06 659.23 L101.19 659.64 L101.33 660 L101.47 660.29 L101.61 660.55 L101.75 660.75 L101.89 660.93 L102.03 661.07 L102.17 661.18 L102.3 661.28 L102.44 661.35 L102.58 661.41 L102.72 661.45" fill="none" stroke="#3b3f9e" stroke-width="1.2" stroke-linejoin="round"/>
<path d="M95.4 690.15 L95.53 690.08 L95.67 689.97 L95.8 689.81 L95.93 689.59 L96.07 689.3 L96.2 688.91 L96.33 688.41 L96.47 687.76 L96.6 686.96 L96.73 685.97 L96.87 684.8 L97 683.43 L97.13 681.87 L97.27 680.14 L97.4 678.26 L97.53 676.29 L97.67 674.27 L97.8 672.28 L97.93 670.39 L98.07 668.66 L98.2 667.17 L98.33 665.98 L98.47 665.6 L98.6 665.6 L98.73 665.6 L98.87 665.6 L99 665.6 L99.13 665.6 L99.27 665.6 L99.4 665.6 L99.53 665.6 L99.67 665.89 L99.8 666.65 L99.93 667.6 L100.07 668.72 L100.2 670.03 L100.33 671.48 L100.47 672.99 L100.6 674.56 L100.73 676.14 L100.87 677.71 L101 679.24 L101.13 680.7 L101.27 682.08 L101.4 683.35 L101.53 684.5 L101.67 685.53 L101.8 686.43 L101.93 687.2 L102.07 687.85 L102.2 688.39 L102.33 688.83 L102.47 689.19 L102.6 689.47 L102.73 689.68 L102.87 689.85 L103 689.98 L103.13 690.07 L103.27 690.14 L103.4 690.19" fill="none" stroke="#d2404a" stroke-width="1.2" stroke-linejoin="round"/>
<path d="M95.2 690.16 L95.34 690.08 L95.48 689.97 L95.62 689.81 L95.75 689.59 L95.89 689.29 L96.03 688.88 L96.17 688.34 L96.31 687.66 L96.45 686.81 L96.59 685.77 L96.73 684.53 L96.86 683.09 L97 681.46 L97.14 679.67 L97.28 677.77 L97.42 675.8 L97.56 673.85 L97.7 671.99 L97.83 670.3 L97.97 668.88 L98.11 667.79 L98.25 667.1 L98.39 666.84 L98.53 666.91 L98.67 667.16 L98.81 667.58 L98.94 668.15 L99.08 668.88 L99.22 669.73 L99.36 670.7 L99.5 671.76 L99.64 672.9 L99.78 674.09 L99.91 675.31 L100.05 676.54 L100.19 677.77 L100.33 678.97 L100.47 680.13 L100.61 681.25 L100.75 682.3 L100.89 683.28 L101.02 684.19 L101.16 685.02 L101.3 685.77 L101.44 686.44 L101.58 687.04 L101.72 687.56 L101.86 688.02 L101.99 688.42 L102.13 688.76 L102.27 689.04 L102.41 689.29 L102.55 689.49 L102.69 689.65 L102.83 689.79 L102.97 689.9 L103.1 689.99 L103.24 690.06 L103.38 690.12 L103.52 690.16" fill="none" stroke="#3b3f9e" stroke-width="1.2" stroke-linejoin="round"/>
<path d="M134.4 661.45 L134.57 661.39 L134.73 661.31 L134.9 661.2 L135.06 661.06 L135.23 660.87 L135.39 660.63 L135.56 660.32 L135.72 659.94 L135.89 659.47 L136.05 658.9 L136.22 658.21 L136.38 657.41 L136.55 656.48 L136.71 655.42 L136.88 654.22 L137.05 652.9 L137.21 651.47 L137.38 649.95 L137.54 648.36 L137.71 646.73 L137.87 645.11 L138.04 643.53 L138.2 642.04 L138.37 640.68 L138.53 639.49 L138.7 638.53 L138.86 637.8 L139.03 637.36 L139.19 637.2 L139.36 637.32 L139.53 637.7 L139.69 638.32 L139.86 639.17 L140.02 640.21 L140.19 641.42 L140.35 642.77 L140.52 644.21 L140.68 645.72 L140.85 647.24 L141.01 648.76 L141.18 650.24 L141.34 651.66 L141.51 652.99 L141.67 654.22 L141.84 655.35 L142.01 656.35 L142.17 657.25 L142.34 658.03 L142.5 658.7 L142.67 659.27 L142.83 659.74 L143 660.14 L143.16 660.46 L143.33 660.73 L143.49 660.93 L143.66 661.1 L143.82 661.23 L143.99 661.32 L144.15 661.4 L144.32 661.45" fill="none" stroke="#d2404a" stroke-width="1.2" stroke-linejoin="round"/>
<path d="M132.6 661.45 L132.77 661.39 L132.93 661.31 L133.1 661.2 L133.26 661.06 L133.43 660.87 L133.59 660.63 L133.76 660.32 L133.92 659.94 L134.09 659.47 L134.25 658.9 L134.42 658.21 L134.58 657.41 L134.75 656.48 L134.91 655.42 L135.08 654.22 L135.25 652.9 L135.41 651.47 L135.58 649.95 L135.74 648.36 L135.91 646.73 L136.07 645.11 L136.24 643.53 L136.4 642.04 L136.57 640.68 L136.73 639.49 L136.9 638.53 L137.06 637.8 L137.23 637.36 L137.39 637.2 L137.56 637.32 L137.73 637.7 L137.89 638.32 L138.06 639.17 L138.22 640.21 L138.39 641.42 L138.55 642.77 L138.72 644.21 L138.88 645.72 L139.05 647.24 L139.21 648.76 L139.38 650.24 L139.54 651.66 L139.71 652.99 L139.87 654.22 L140.04 655.35 L140.21 656.35 L140.37 657.25 L140.54 658.03 L140.7 658.7 L140.87 659.27 L141.03 659.74 L141.2 660.14 L141.36 660.46 L141.53 660.73 L141.69 660.93 L141.86 661.1 L142.02 661.23 L142.19 661.32 L142.35 661.4 L142.52 661.45" fill="none" stroke="#3b3f9e" stroke-width="1.2" stroke-linejoin="round"/>
<path d="M136.04 690.15 L136.18 690.09 L136.32 690.01 L136.46 689.91 L136.59 689.77 L136.73 689.59 L136.87 689.37 L137.01 689.08 L137.15 688.73 L137.29 688.29 L137.43 687.76 L137.57 687.13 L137.7 686.39 L137.84 685.53 L137.98 684.54 L138.12 683.43 L138.26 682.2 L138.4 680.86 L138.54 679.41 L138.67 677.89 L138.81 676.32 L138.95 674.72 L139.09 673.14 L139.23 671.61 L139.37 670.17 L139.51 668.87 L139.65 667.75 L139.78 666.83 L139.92 666.16 L140.06 665.74 L140.2 665.6 L140.34 665.74 L140.48 666.16 L140.62 666.83 L140.75 667.75 L140.89 668.87 L141.03 670.17 L141.17 671.61 L141.31 673.14 L141.45 674.72 L141.59 676.32 L141.73 677.89 L141.86 679.41 L142 680.86 L142.14 682.2 L142.28 683.43 L142.42 684.54 L142.56 685.53 L142.7 686.39 L142.83 687.13 L142.97 687.76 L143.11 688.29 L143.25 688.73 L143.39 689.08 L143.53 689.37 L143.67 689.59 L143.81 689.77 L143.94 689.91 L144.08 690.01 L144.22 690.09 L144.36 690.15" fill="none" stroke="#d2404a" stroke-width="1.2" stroke-linejoin="round"/>
<path d="M135.84 690.15 L135.98 690.09 L136.13 690.01 L136.27 689.9 L136.42 689.75 L136.56 689.55 L136.7 689.31 L136.85 688.99 L136.99 688.6 L137.14 688.12 L137.28 687.53 L137.42 686.83 L137.57 686.01 L137.71 685.05 L137.86 683.96 L138 682.74 L138.14 681.39 L138.29 679.92 L138.43 678.37 L138.58 676.74 L138.72 675.09 L138.86 673.44 L139.01 671.84 L139.15 670.33 L139.3 668.97 L139.44 667.79 L139.58 666.83 L139.73 666.13 L139.87 665.72 L140.02 665.6 L140.16 665.76 L140.3 666.18 L140.45 666.83 L140.59 667.71 L140.74 668.79 L140.88 670.03 L141.02 671.4 L141.17 672.86 L141.31 674.38 L141.46 675.92 L141.6 677.44 L141.74 678.93 L141.89 680.35 L142.03 681.69 L142.18 682.92 L142.32 684.04 L142.46 685.05 L142.61 685.94 L142.75 686.72 L142.9 687.39 L143.04 687.96 L143.18 688.44 L143.33 688.84 L143.47 689.16 L143.62 689.42 L143.76 689.63 L143.9 689.79 L144.05 689.92 L144.19 690.02 L144.34 690.1 L144.48 690.15" fill="none" stroke="#3b3f9e" stroke-width="1.2" stroke-linejoin="round"/>
<path d="M169.2 661.58 L169.53 661.57 L169.85 661.54 L170.18 661.49 L170.51 661.4 L170.84 661.28 L171.16 661.11 L171.49 660.88 L171.82 660.58 L172.15 660.24 L172.47 659.86 L172.8 659.47 L173.13 659.13 L173.46 658.85 L173.78 658.69 L174.11 658.66 L174.44 658.77 L174.76 658.98 L175.09 659.27 L175.42 659.58 L175.75 659.86 L176.07 660.07 L176.4 660.15 L176.73 660.06 L177.06 659.77 L177.38 659.24 L177.71 658.45 L178.04 657.36 L178.37 655.97 L178.69 654.28 L179.02 652.3 L179.35 650.09 L179.67 647.72 L180 645.31 L180.33 642.98 L180.66 640.88 L180.98 639.15 L181.31 637.92 L181.64 637.28 L181.97 637.27 L182.29 637.81 L182.62 638.84 L182.95 640.31 L183.28 642.11 L183.6 644.16 L183.93 646.33 L184.26 648.52 L184.58 650.65 L184.91 652.63 L185.24 654.41 L185.57 655.97 L185.89 657.28 L186.22 658.36 L186.55 659.22 L186.88 659.9 L187.2 660.4 L187.53 660.78 L187.86 661.05 L188.19 661.24 L188.51 661.37 L188.84 661.45" fill="none" stroke="#d2404a" stroke-width="1.2" stroke-linejoin="round"/>
<path d="M169.96 661.46 L170.15 661.37 L170.33 661.24 L170.52 661.04 L170.71 660.76 L170.9 660.36 L171.08 659.81 L171.27 659.08 L171.46 658.14 L171.65 656.96 L171.83 655.53 L172.02 653.85 L172.21 651.93 L172.4 649.83 L172.58 647.6 L172.77 645.32 L172.96 643.11 L173.14 641.05 L173.33 639.23 L173.52 637.75 L173.71 637.2 L173.89 637.2 L174.08 637.2 L174.27 637.2 L174.46 637.2 L174.64 637.2 L174.83 637.2 L175.02 637.2 L175.21 637.2 L175.39 637.2 L175.58 637.2 L175.77 637.2 L175.95 637.2 L176.14 637.2 L176.33 637.2 L176.52 637.2 L176.7 637.65 L176.89 638.79 L177.08 640.12 L177.27 641.62 L177.45 643.26 L177.64 645 L177.83 646.78 L178.02 648.57 L178.2 650.31 L178.39 651.97 L178.58 653.51 L178.76 654.9 L178.95 656.15 L179.14 657.22 L179.33 658.14 L179.51 658.91 L179.7 659.54 L179.89 660.05 L180.08 660.45 L180.26 660.76 L180.45 661 L180.64 661.17 L180.83 661.3 L181.01 661.4 L181.2 661.46" fill="none" stroke="#3b3f9e" stroke-width="1.2" stroke-linejoin="round"/>
<path d="M174.6 690.15 L174.77 690.09 L174.94 690 L175.11 689.88 L175.28 689.73 L175.45 689.52 L175.62 689.26 L175.79 688.93 L175.97 688.5 L176.14 687.99 L176.31 687.35 L176.48 686.6 L176.65 685.71 L176.82 684.68 L176.99 683.51 L177.16 682.2 L177.33 680.76 L177.5 679.21 L177.67 677.58 L177.84 675.89 L178.01 674.19 L178.18 672.52 L178.35 670.93 L178.53 669.46 L178.7 668.18 L178.87 667.11 L179.04 666.31 L179.21 665.8 L179.38 665.6 L179.55 665.7 L179.72 666.03 L179.89 666.61 L180.06 667.4 L180.23 668.39 L180.4 669.54 L180.57 670.84 L180.74 672.23 L180.91 673.69 L181.09 675.19 L181.26 676.69 L181.43 678.16 L181.6 679.59 L181.77 680.94 L181.94 682.2 L182.11 683.36 L182.28 684.42 L182.45 685.36 L182.62 686.2 L182.79 686.93 L182.96 687.55 L183.13 688.08 L183.3 688.53 L183.47 688.9 L183.65 689.21 L183.82 689.45 L183.99 689.65 L184.16 689.81 L184.33 689.93 L184.5 690.02 L184.67 690.1 L184.84 690.15" fill="none" stroke="#d2404a" stroke-width="1.2" stroke-linejoin="round"/>
<path d="M174.5 690.15 L174.67 690.09 L174.84 690 L175.01 689.88 L175.18 689.73 L175.35 689.52 L175.52 689.26 L175.69 688.93 L175.87 688.5 L176.04 687.99 L176.21 687.35 L176.38 686.6 L176.55 685.71 L176.72 684.68 L176.89 683.51 L177.06 682.2 L177.23 680.76 L177.4 679.21 L177.57 677.58 L177.74 675.89 L177.91 674.19 L178.08 672.52 L178.25 670.93 L178.43 669.46 L178.6 668.18 L178.77 667.11 L178.94 666.31 L179.11 665.8 L179.28 665.6 L179.45 665.7 L179.62 666.03 L179.79 666.61 L179.96 667.4 L180.13 668.39 L180.3 669.54 L180.47 670.84 L180.64 672.23 L180.81 673.69 L180.99 675.19 L181.16 676.69 L181.33 678.16 L181.5 679.59 L181.67 680.94 L181.84 682.2 L182.01 683.36 L182.18 684.42 L182.35 685.36 L182.52 686.2 L182.69 686.93 L182.86 687.55 L183.03 688.08 L183.2 688.53 L183.37 688.9 L183.55 689.21 L183.72 689.45 L183.89 689.65 L184.06 689.81 L184.23 689.93 L184.4 690.02 L184.57 690.1 L184.74 690.15" fill="none" stroke="#3b3f9e" stroke-width="1.2" stroke-linejoin="round"/>
<line x1="25.6" y1="685" x2="25.6" y2="648" stroke="#000" stroke-width="1.1"/>
<path d="M25.6 642.8L28.2 648.8L23 648.8Z" fill="#000"/>
<text x="18.3" y="665.81" font-size="6.9" text-anchor="middle" transform="rotate(-90 18.3 663.4)">% of max</text>
<line x1="51.9" y1="694.6" x2="185" y2="694.6" stroke="#000" stroke-width="1.2"/>
<path d="M190 694.6L184.6 692.2L184.6 697Z" fill="#000"/>
<text x="113.4" y="704.4" font-size="6" text-anchor="middle">CFSE</text>
<rect x="83.4" y="709.3" width="4" height="4.4" fill="#3b3f9e"/>
<text x="90.8" y="713.46" font-size="5.6">DMSO</text>
<rect x="113.8" y="709.3" width="4" height="4.4" fill="#d2404a"/>
<text x="121.2" y="713.41" font-size="5.45">z-VRPR-fmk</text>
<text x="294" y="633.16" font-size="7.6" text-anchor="middle">Mino</text>
<path d="M272.3 640.8V638.2H316.2V640.8" fill="none" stroke="#000" stroke-width="1"/>
<text x="268.2" y="651.06" font-size="5.3" text-anchor="end">cDNA:</text>
<text x="283.8" y="648.39" font-size="5.4" text-anchor="middle">Empty</text>
<text x="283.8" y="654.89" font-size="5.4" text-anchor="middle">vector</text>
<text x="295.6" y="651.09" font-size="5.4">BTK<tspan font-size="3.2" dy="-1.9" fill="#333" stroke="none">C481S</tspan></text>
<text x="269.2" y="665.69" font-size="5.4" text-anchor="end">FLAG-Tag</text>
<text x="269.2" y="679.09" font-size="5.4" text-anchor="end">BTK</text>
<text x="269.2" y="692.69" font-size="5.4" text-anchor="end">Tubulin</text>
<rect x="272.3" y="657.7" width="43.9" height="11.6" fill="#f4f4f4" stroke="#111" stroke-width="1.3"/>
<rect x="295.4" y="661.7" width="18" height="4.2" rx="1.68" fill="#000" fill-opacity="1" filter="url(#b2)"/>
<rect x="272.3" y="671.5" width="43.9" height="11.6" fill="#f0f0f0" stroke="#111" stroke-width="1.3"/>
<rect x="274.3" y="677.06" width="20.1" height="3.68" rx="1.47" fill="#000" fill-opacity="1" filter="url(#b2)"/>
<rect x="296" y="673.54" width="18" height="2.12" rx="0.85" fill="#000" fill-opacity="1" filter="url(#b2)"/>
<rect x="296" y="677.84" width="18" height="2.12" rx="0.85" fill="#000" fill-opacity="1" filter="url(#b2)"/>
<rect x="272.3" y="685" width="43.9" height="11.6" fill="#e4e4e4" stroke="#111" stroke-width="1.3"/>
<rect x="274" y="688.44" width="20.4" height="4.72" rx="1.89" fill="#000" fill-opacity="1" filter="url(#b2)"/>
<rect x="296" y="688.89" width="18.2" height="3.81" rx="1.52" fill="#000" fill-opacity="1" filter="url(#b2)"/>
<text x="441.6" y="633.16" font-size="7.6" text-anchor="middle">Mino</text>
<path d="M370.2 638.6V636H507.8V638.6" fill="none" stroke="#000" stroke-width="1.2"/>
<line x1="370.1" y1="640.5" x2="370.1" y2="687.6" stroke="#000" stroke-width="1.3"/>
<line x1="369.5" y1="687" x2="429.6" y2="687" stroke="#000" stroke-width="1.3"/>
<line x1="366.9" y1="687" x2="370.1" y2="687" stroke="#000" stroke-width="1"/>
<text x="363.9" y="688.92" font-size="5.5" text-anchor="end">0</text>
<line x1="366.9" y1="679.77" x2="370.1" y2="679.77" stroke="#000" stroke-width="1"/>
<text x="363.9" y="681.69" font-size="5.5" text-anchor="end">20</text>
<line x1="366.9" y1="672.53" x2="370.1" y2="672.53" stroke="#000" stroke-width="1"/>
<text x="363.9" y="674.46" font-size="5.5" text-anchor="end">40</text>
<line x1="366.9" y1="665.3" x2="370.1" y2="665.3" stroke="#000" stroke-width="1"/>
<text x="363.9" y="667.22" font-size="5.5" text-anchor="end">60</text>
<line x1="366.9" y1="658.06" x2="370.1" y2="658.06" stroke="#000" stroke-width="1"/>
<text x="363.9" y="659.99" font-size="5.5" text-anchor="end">80</text>
<line x1="366.9" y1="650.83" x2="370.1" y2="650.83" stroke="#000" stroke-width="1"/>
<text x="363.9" y="652.75" font-size="5.5" text-anchor="end">100</text>
<line x1="366.9" y1="643.6" x2="370.1" y2="643.6" stroke="#000" stroke-width="1"/>
<text x="363.9" y="645.52" font-size="5.5" text-anchor="end">120</text>
<line x1="373" y1="687" x2="373" y2="688.8" stroke="#000" stroke-width="0.9"/>
<text x="373" y="695.15" font-size="5.3" text-anchor="middle">0</text>
<line x1="381.8" y1="687" x2="381.8" y2="688.8" stroke="#000" stroke-width="0.9"/>
<text x="381.8" y="695.15" font-size="5.3" text-anchor="middle">3</text>
<line x1="390.7" y1="687" x2="390.7" y2="688.8" stroke="#000" stroke-width="0.9"/>
<text x="390.7" y="695.15" font-size="5.3" text-anchor="middle">6</text>
<line x1="399.2" y1="687" x2="399.2" y2="688.8" stroke="#000" stroke-width="0.9"/>
<text x="399.2" y="695.15" font-size="5.3" text-anchor="middle">12</text>
<line x1="408.3" y1="687" x2="408.3" y2="688.8" stroke="#000" stroke-width="0.9"/>
<text x="408.3" y="695.15" font-size="5.3" text-anchor="middle">25</text>
<line x1="416.7" y1="687" x2="416.7" y2="688.8" stroke="#000" stroke-width="0.9"/>
<text x="416.7" y="695.15" font-size="5.3" text-anchor="middle">50</text>
<line x1="425.6" y1="687" x2="425.6" y2="688.8" stroke="#000" stroke-width="0.9"/>
<text x="425.6" y="695.15" font-size="5.3" text-anchor="middle">100</text>
<line x1="448.8" y1="640.5" x2="448.8" y2="687.6" stroke="#000" stroke-width="1.3"/>
<line x1="448.2" y1="687" x2="507.5" y2="687" stroke="#000" stroke-width="1.3"/>
<line x1="445.6" y1="687" x2="448.8" y2="687" stroke="#000" stroke-width="1"/>
<text x="442.6" y="688.92" font-size="5.5" text-anchor="end">0</text>
<line x1="445.6" y1="679.77" x2="448.8" y2="679.77" stroke="#000" stroke-width="1"/>
<text x="442.6" y="681.69" font-size="5.5" text-anchor="end">20</text>
<line x1="445.6" y1="672.53" x2="448.8" y2="672.53" stroke="#000" stroke-width="1"/>
<text x="442.6" y="674.46" font-size="5.5" text-anchor="end">40</text>
<line x1="445.6" y1="665.3" x2="448.8" y2="665.3" stroke="#000" stroke-width="1"/>
<text x="442.6" y="667.22" font-size="5.5" text-anchor="end">60</text>
<line x1="445.6" y1="658.06" x2="448.8" y2="658.06" stroke="#000" stroke-width="1"/>
<text x="442.6" y="659.99" font-size="5.5" text-anchor="end">80</text>
<line x1="445.6" y1="650.83" x2="448.8" y2="650.83" stroke="#000" stroke-width="1"/>
<text x="442.6" y="652.75" font-size="5.5" text-anchor="end">100</text>
<line x1="445.6" y1="643.6" x2="448.8" y2="643.6" stroke="#000" stroke-width="1"/>
<text x="442.6" y="645.52" font-size="5.5" text-anchor="end">120</text>
<line x1="453.3" y1="687" x2="453.3" y2="688.8" stroke="#000" stroke-width="0.9"/>
<text x="453.3" y="695.15" font-size="5.3" text-anchor="middle">0</text>
<line x1="470.4" y1="687" x2="470.4" y2="688.8" stroke="#000" stroke-width="0.9"/>
<text x="470.4" y="695.15" font-size="5.3" text-anchor="middle">12.5</text>
<line x1="486.3" y1="687" x2="486.3" y2="688.8" stroke="#000" stroke-width="0.9"/>
<text x="486.3" y="695.15" font-size="5.3" text-anchor="middle">25</text>
<line x1="502.7" y1="687" x2="502.7" y2="688.8" stroke="#000" stroke-width="0.9"/>
<text x="502.7" y="695.15" font-size="5.3" text-anchor="middle">50</text>
<text x="399.8" y="706.19" font-size="7.1" text-anchor="middle">Ibrutinib [nM]</text>
<text x="478" y="706.69" font-size="7.1" text-anchor="middle">z-VRPR-fmk [µM]</text>
<text x="338.9" y="665.83" font-size="6.95" text-anchor="middle" transform="rotate(-90 338.9 663.4)">Cell viability</text>
<text x="348" y="666.69" font-size="7.1" text-anchor="middle" transform="rotate(-90 348 664.2)">(% of control)</text>
<polyline points="373,650.83 381.8,656.26 390.7,664.57 399.2,674.7 408.3,678.32 416.7,678.5 425.6,677.96" fill="none" stroke="#c0392e" stroke-width="1.6" stroke-linejoin="round"/>
<polyline points="373,650.11 381.8,654.59 390.7,654.09 399.2,656.26 408.3,656.62 416.7,657.16 425.6,658.06" fill="none" stroke="#4aaedb" stroke-width="1.6" stroke-linejoin="round"/>
<rect x="371.8" y="649.63" width="2.4" height="2.4" fill="#c0392e"/>
<rect x="380.6" y="655.06" width="2.4" height="2.4" fill="#c0392e"/>
<rect x="389.5" y="663.37" width="2.4" height="2.4" fill="#c0392e"/>
<rect x="398" y="673.5" width="2.4" height="2.4" fill="#c0392e"/>
<rect x="407.1" y="677.12" width="2.4" height="2.4" fill="#c0392e"/>
<rect x="415.5" y="677.3" width="2.4" height="2.4" fill="#c0392e"/>
<rect x="424.4" y="676.76" width="2.4" height="2.4" fill="#c0392e"/>
<circle cx="373" cy="650.11" r="1.6" fill="#4aaedb"/>
<circle cx="381.8" cy="654.59" r="1.6" fill="#4aaedb"/>
<circle cx="390.7" cy="654.09" r="1.6" fill="#4aaedb"/>
<circle cx="399.2" cy="656.26" r="1.6" fill="#4aaedb"/>
<circle cx="408.3" cy="656.62" r="1.6" fill="#4aaedb"/>
<circle cx="416.7" cy="657.16" r="1.6" fill="#4aaedb"/>
<circle cx="425.6" cy="658.06" r="1.6" fill="#4aaedb"/>
<line x1="381.8" y1="653.51" x2="381.8" y2="655.68" stroke="#222" stroke-width="0.8"/>
<line x1="380.9" y1="653.51" x2="382.7" y2="653.51" stroke="#222" stroke-width="0.8"/>
<line x1="380.9" y1="655.68" x2="382.7" y2="655.68" stroke="#222" stroke-width="0.8"/>
<line x1="390.7" y1="653" x2="390.7" y2="655.17" stroke="#222" stroke-width="0.8"/>
<line x1="389.8" y1="653" x2="391.6" y2="653" stroke="#222" stroke-width="0.8"/>
<line x1="389.8" y1="655.17" x2="391.6" y2="655.17" stroke="#222" stroke-width="0.8"/>
<line x1="408.3" y1="655.53" x2="408.3" y2="657.7" stroke="#222" stroke-width="0.8"/>
<line x1="407.4" y1="655.53" x2="409.2" y2="655.53" stroke="#222" stroke-width="0.8"/>
<line x1="407.4" y1="657.7" x2="409.2" y2="657.7" stroke="#222" stroke-width="0.8"/>
<line x1="416.7" y1="656.07" x2="416.7" y2="658.24" stroke="#222" stroke-width="0.8"/>
<line x1="415.8" y1="656.07" x2="417.6" y2="656.07" stroke="#222" stroke-width="0.8"/>
<line x1="415.8" y1="658.24" x2="417.6" y2="658.24" stroke="#222" stroke-width="0.8"/>
<polyline points="453.3,650.83 470.4,679.04 486.3,681.57 502.7,682.84" fill="none" stroke="#4aaedb" stroke-width="1.9" stroke-linejoin="round"/>
<polyline points="453.3,650.83 470.4,681.03 486.3,683.02 502.7,683.74" fill="none" stroke="#c0392e" stroke-width="1.7" stroke-linejoin="round"/>
<path d="M453.3 650.83 L470.4 679.95 L486.3 682.3 L502.7 683.31" fill="none" stroke="#4a7088" stroke-width="1.6" stroke-linejoin="round"/>
<rect x="392.3" y="711.4" width="3.6" height="3.6" fill="#4aaedb"/>
<text x="398.8" y="715.21" font-size="5.45">BTK<tspan font-size="3.2" dy="-1.9" fill="#333" stroke="none">C481S</tspan></text>
<rect x="425.8" y="711.4" width="3.6" height="3.6" fill="#c0392e"/>
<text x="433.2" y="715.21" font-size="5.45">Empty vector</text>
</svg>
<div class="bd" style="left:0;top:1px;width:520px;height:1px;background:#c4c4c4"></div>
<div class="bd" style="left:1px;top:0;width:1px;height:724px;background:#c4c4c4"></div>
<div class="bd" style="left:518px;top:0;width:1px;height:724px;background:#808080"></div>
<div class="bd" style="left:0;top:722px;width:520px;height:1px;background:#808080"></div>
<div class="bd" style="left:0;top:0;width:520px;height:1px;background:#000"></div>
<div class="bd" style="left:0;top:0;width:1px;height:724px;background:#000"></div>
<div class="bd" style="left:519px;top:0;width:1px;height:724px;background:#000"></div>
<div class="bd" style="left:0;top:723px;width:520px;height:1px;background:#000"></div>
</body></html>
